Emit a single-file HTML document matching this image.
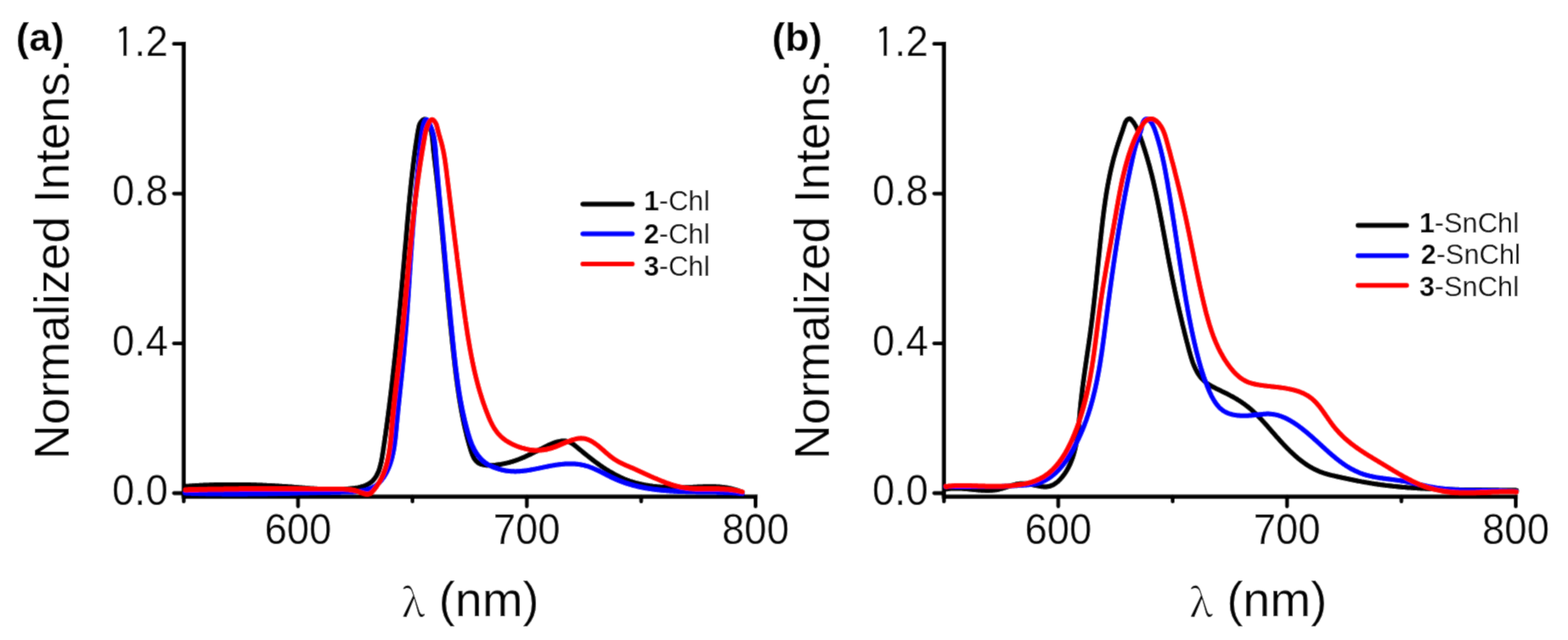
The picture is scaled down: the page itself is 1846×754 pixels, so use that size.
<!DOCTYPE html>
<html><head><meta charset="utf-8"><title>Normalized emission spectra of Chl and SnChl</title>
<style>
html,body{margin:0;padding:0;background:#fff;}
body{width:1846px;height:754px;overflow:hidden;}
svg{display:block;}
text{fill:#000;}
.tk{font-family:"Liberation Sans",Arial,sans-serif;font-size:47.3px;}
.tt{font-family:"Liberation Sans",Arial,sans-serif;font-size:56.6px;}
.xt{font-family:"Liberation Sans",Arial,sans-serif;font-size:57.5px;}
.lam{font-family:"Noto Serif CJK SC","Liberation Serif",serif;font-size:45.5px;}
.pl{font-family:"Liberation Sans",Arial,sans-serif;font-size:46.5px;font-weight:bold;}
.lg{font-family:"Liberation Sans",Arial,sans-serif;font-size:32.5px;}
.b{font-weight:bold;}
.one{font-family:IPAGothic,"Liberation Sans",sans-serif;}
.cv{fill:none;stroke-width:6.0;stroke-linejoin:round;stroke-linecap:round;}
</style></head><body>
<svg width="1846" height="754" viewBox="0 0 1846 754">
<defs><filter id="soft" x="0" y="0" width="1846" height="754" filterUnits="userSpaceOnUse"><feConvolveMatrix order="3" kernelMatrix="1 6 1 6 36 6 1 6 1" divisor="64" edgeMode="duplicate"/></filter></defs>
<g filter="url(#soft)">
<rect width="1846" height="754" fill="#fff"/>

<g transform="translate(0.0,0)">
<path d="M216.3,49.1 V585.2" stroke="#000" stroke-width="5.2" fill="none"/>
<path d="M213.7,585.2 H892.1" stroke="#000" stroke-width="5.2" fill="none"/>
<path d="M204.8,581.0 H216.3" stroke="#000" stroke-width="4.8" stroke-linecap="round"/>
<text class="tk" text-anchor="end" transform="translate(197.8,594.9) scale(1,1.045)">0.0</text>
<path d="M204.8,404.6 H216.3" stroke="#000" stroke-width="4.8" stroke-linecap="round"/>
<text class="tk" text-anchor="end" transform="translate(197.8,418.5) scale(1,1.045)">0.4</text>
<path d="M204.8,228.1 H216.3" stroke="#000" stroke-width="4.8" stroke-linecap="round"/>
<text class="tk" text-anchor="end" transform="translate(197.8,242.0) scale(1,1.045)">0.8</text>
<path d="M204.8,51.7 H216.3" stroke="#000" stroke-width="4.8" stroke-linecap="round"/>
<text class="tk" text-anchor="end" transform="translate(197.8,65.6) scale(1,1.045)"><tspan class="one" dy="2.4">1</tspan><tspan dy="-2.4">.</tspan>2</text>
<path d="M216.3,585.2 V590.8" stroke="#000" stroke-width="4.8" stroke-linecap="round"/>
<path d="M350.9,585.2 V596.5" stroke="#000" stroke-width="4.8" stroke-linecap="round"/>
<text class="tk" text-anchor="middle" transform="translate(350.9,641) scale(1,1.045)">600</text>
<path d="M485.6,585.2 V590.8" stroke="#000" stroke-width="4.8" stroke-linecap="round"/>
<path d="M620.2,585.2 V596.5" stroke="#000" stroke-width="4.8" stroke-linecap="round"/>
<text class="tk" text-anchor="middle" transform="translate(620.2,641) scale(1,1.045)">700</text>
<path d="M754.9,585.2 V590.8" stroke="#000" stroke-width="4.8" stroke-linecap="round"/>
<path d="M889.5,585.2 V596.5" stroke="#000" stroke-width="4.8" stroke-linecap="round"/>
<text class="tk" text-anchor="middle" transform="translate(889.5,641) scale(1,1.045)">800</text>
</g>
<g transform="translate(895.0,0)">
<path d="M216.3,49.1 V585.2" stroke="#000" stroke-width="5.2" fill="none"/>
<path d="M213.7,585.2 H892.1" stroke="#000" stroke-width="5.2" fill="none"/>
<path d="M204.8,581.0 H216.3" stroke="#000" stroke-width="4.8" stroke-linecap="round"/>
<text class="tk" text-anchor="end" transform="translate(197.8,594.9) scale(1,1.045)">0.0</text>
<path d="M204.8,404.6 H216.3" stroke="#000" stroke-width="4.8" stroke-linecap="round"/>
<text class="tk" text-anchor="end" transform="translate(197.8,418.5) scale(1,1.045)">0.4</text>
<path d="M204.8,228.1 H216.3" stroke="#000" stroke-width="4.8" stroke-linecap="round"/>
<text class="tk" text-anchor="end" transform="translate(197.8,242.0) scale(1,1.045)">0.8</text>
<path d="M204.8,51.7 H216.3" stroke="#000" stroke-width="4.8" stroke-linecap="round"/>
<text class="tk" text-anchor="end" transform="translate(197.8,65.6) scale(1,1.045)"><tspan class="one" dy="2.4">1</tspan><tspan dy="-2.4">.</tspan>2</text>
<path d="M216.3,585.2 V590.8" stroke="#000" stroke-width="4.8" stroke-linecap="round"/>
<path d="M350.9,585.2 V596.5" stroke="#000" stroke-width="4.8" stroke-linecap="round"/>
<text class="tk" text-anchor="middle" transform="translate(350.9,641) scale(1,1.045)">600</text>
<path d="M485.6,585.2 V590.8" stroke="#000" stroke-width="4.8" stroke-linecap="round"/>
<path d="M620.2,585.2 V596.5" stroke="#000" stroke-width="4.8" stroke-linecap="round"/>
<text class="tk" text-anchor="middle" transform="translate(620.2,641) scale(1,1.045)">700</text>
<path d="M754.9,585.2 V590.8" stroke="#000" stroke-width="4.8" stroke-linecap="round"/>
<path d="M889.5,585.2 V596.5" stroke="#000" stroke-width="4.8" stroke-linecap="round"/>
<text class="tk" text-anchor="middle" transform="translate(889.5,641) scale(1,1.045)">800</text>
</g>
<path class="cv" stroke="#000" d="M218.6,572.9 L219.8,572.8 L220.9,572.7 L222.1,572.7 L223.3,572.6 L224.5,572.5 L225.7,572.4 L226.9,572.3 L228.1,572.2 L229.3,572.2 L230.4,572.1 L231.6,572.0 L232.8,572.0 L234.0,571.9 L235.2,571.8 L236.4,571.8 L237.6,571.7 L238.8,571.7 L240.0,571.6 L241.2,571.5 L242.4,571.5 L243.6,571.4 L244.8,571.4 L246.0,571.4 L247.2,571.3 L248.4,571.3 L249.6,571.2 L250.8,571.2 L252.0,571.2 L253.2,571.1 L254.4,571.1 L255.6,571.1 L256.8,571.0 L258.0,571.0 L259.2,571.0 L260.4,571.0 L261.6,571.0 L262.8,570.9 L264.0,570.9 L265.2,570.9 L266.4,570.9 L267.6,570.9 L268.8,570.9 L270.0,570.9 L271.2,570.9 L272.4,570.9 L273.6,570.9 L274.8,570.9 L276.0,570.9 L277.2,570.9 L278.4,570.9 L279.6,570.9 L280.8,570.9 L282.0,570.9 L283.3,570.9 L284.5,570.9 L285.7,571.0 L286.9,571.0 L288.1,571.0 L289.3,571.0 L290.5,571.0 L291.7,571.1 L292.9,571.1 L294.1,571.1 L295.3,571.2 L296.5,571.2 L297.7,571.2 L298.9,571.3 L300.1,571.3 L301.3,571.3 L302.5,571.4 L303.7,571.4 L304.9,571.5 L306.1,571.5 L307.3,571.6 L308.5,571.6 L309.7,571.7 L310.9,571.7 L312.1,571.8 L313.3,571.8 L314.5,571.9 L315.7,571.9 L316.9,572.0 L318.1,572.1 L319.3,572.1 L320.5,572.2 L321.7,572.2 L322.9,572.3 L324.1,572.4 L325.3,572.4 L326.5,572.5 L327.7,572.6 L328.9,572.7 L330.1,572.7 L331.3,572.8 L332.5,572.9 L333.6,573.0 L334.8,573.0 L336.0,573.1 L337.2,573.2 L338.4,573.3 L339.6,573.4 L340.8,573.5 L342.0,573.5 L343.1,573.6 L344.3,573.7 L345.5,573.8 L346.7,573.9 L347.9,574.0 L349.1,574.1 L350.2,574.2 L351.4,574.3 L352.6,574.4 L353.8,574.5 L355.0,574.6 L356.1,574.7 L357.3,574.8 L358.5,574.8 L359.7,574.9 L360.8,575.0 L362.0,575.1 L363.2,575.2 L364.4,575.3 L365.6,575.4 L366.8,575.5 L367.9,575.5 L369.1,575.6 L370.3,575.7 L371.5,575.8 L372.7,575.8 L373.9,575.9 L375.1,576.0 L376.3,576.0 L377.5,576.1 L378.6,576.2 L379.8,576.2 L381.0,576.3 L382.2,576.3 L383.4,576.3 L384.6,576.4 L385.9,576.4 L387.1,576.4 L388.3,576.5 L389.5,576.5 L390.7,576.5 L391.9,576.5 L393.1,576.5 L394.4,576.5 L395.6,576.5 L396.8,576.5 L398.1,576.4 L399.3,576.4 L400.5,576.4 L401.8,576.3 L403.0,576.3 L404.3,576.2 L405.5,576.2 L406.8,576.1 L408.0,576.0 L409.3,575.9 L410.6,575.8 L411.8,575.7 L413.1,575.6 L414.4,575.5 L415.6,575.3 L416.9,575.2 L418.1,575.0 L419.3,574.8 L420.5,574.6 L421.7,574.4 L422.9,574.1 L424.1,573.8 L425.3,573.5 L426.4,573.2 L427.5,572.9 L428.6,572.5 L429.7,572.1 L430.7,571.7 L431.7,571.2 L432.7,570.7 L433.7,570.2 L434.6,569.7 L435.5,569.1 L436.4,568.4 L437.2,567.8 L438.0,567.1 L438.8,566.4 L439.5,565.6 L440.2,564.8 L440.8,564.0 L441.5,563.1 L442.1,562.2 L442.7,561.3 L443.2,560.4 L443.7,559.4 L444.2,558.4 L444.7,557.4 L445.1,556.4 L445.6,555.4 L446.0,554.3 L446.4,553.2 L446.7,552.1 L447.1,550.9 L447.4,549.8 L447.7,548.6 L448.0,547.5 L448.3,546.3 L448.6,545.1 L448.9,543.9 L449.1,542.7 L449.3,541.4 L449.6,540.2 L449.8,539.0 L450.0,537.7 L450.2,536.5 L450.4,535.2 L450.6,534.0 L450.8,532.7 L451.0,531.5 L451.2,530.2 L451.4,529.0 L451.5,527.7 L451.7,526.5 L451.9,525.2 L452.1,524.0 L452.3,522.7 L452.5,521.5 L452.6,520.3 L452.8,519.0 L453.0,517.8 L453.2,516.6 L453.3,515.3 L453.5,514.1 L453.7,512.9 L453.9,511.7 L454.0,510.5 L454.2,509.2 L454.4,508.0 L454.5,506.8 L454.7,505.6 L454.9,504.4 L455.1,503.2 L455.2,501.9 L455.4,500.7 L455.5,499.5 L455.7,498.3 L455.9,497.1 L456.0,495.9 L456.2,494.7 L456.3,493.5 L456.5,492.3 L456.7,491.1 L456.8,489.9 L457.0,488.7 L457.1,487.5 L457.3,486.3 L457.4,485.1 L457.6,483.9 L457.7,482.7 L457.9,481.5 L458.1,480.4 L458.2,479.2 L458.4,478.0 L458.5,476.8 L458.6,475.6 L458.8,474.4 L458.9,473.2 L459.1,472.1 L459.2,470.9 L459.4,469.7 L459.5,468.5 L459.7,467.3 L459.8,466.1 L460.0,465.0 L460.1,463.8 L460.2,462.6 L460.4,461.4 L460.5,460.3 L460.7,459.1 L460.8,457.9 L460.9,456.7 L461.1,455.5 L461.2,454.4 L461.3,453.2 L461.5,452.0 L461.6,450.8 L461.7,449.7 L461.9,448.5 L462.0,447.3 L462.2,446.2 L462.3,445.0 L462.4,443.8 L462.5,442.6 L462.7,441.5 L462.8,440.3 L462.9,439.1 L463.1,437.9 L463.2,436.8 L463.3,435.6 L463.5,434.4 L463.6,433.2 L463.7,432.1 L463.8,430.9 L464.0,429.7 L464.1,428.5 L464.2,427.4 L464.3,426.2 L464.5,425.0 L464.6,423.8 L464.7,422.7 L464.9,421.5 L465.0,420.3 L465.1,419.1 L465.2,418.0 L465.3,416.8 L465.5,415.6 L465.6,414.4 L465.7,413.2 L465.8,412.1 L466.0,410.9 L466.1,409.7 L466.2,408.5 L466.3,407.3 L466.4,406.2 L466.6,405.0 L466.7,403.8 L466.8,402.6 L466.9,401.4 L467.0,400.2 L467.2,399.0 L467.3,397.9 L467.4,396.7 L467.5,395.5 L467.6,394.3 L467.8,393.1 L467.9,391.9 L468.0,390.7 L468.1,389.5 L468.2,388.3 L468.4,387.1 L468.5,385.9 L468.6,384.7 L468.7,383.6 L468.8,382.4 L468.9,381.2 L469.1,380.0 L469.2,378.8 L469.3,377.6 L469.4,376.4 L469.5,375.2 L469.6,374.0 L469.7,372.8 L469.9,371.6 L470.0,370.4 L470.1,369.2 L470.2,368.0 L470.3,366.8 L470.4,365.6 L470.5,364.4 L470.7,363.2 L470.8,362.0 L470.9,360.8 L471.0,359.6 L471.1,358.4 L471.2,357.2 L471.3,356.0 L471.4,354.8 L471.6,353.6 L471.7,352.4 L471.8,351.2 L471.9,350.0 L472.0,348.8 L472.1,347.6 L472.2,346.4 L472.3,345.2 L472.4,344.0 L472.6,342.7 L472.7,341.5 L472.8,340.3 L472.9,339.1 L473.0,337.9 L473.1,336.7 L473.2,335.5 L473.3,334.3 L473.4,333.1 L473.5,331.9 L473.6,330.7 L473.8,329.5 L473.9,328.3 L474.0,327.1 L474.1,325.9 L474.2,324.7 L474.3,323.5 L474.4,322.3 L474.5,321.1 L474.6,319.9 L474.7,318.7 L474.8,317.5 L474.9,316.3 L475.0,315.1 L475.2,313.8 L475.3,312.6 L475.4,311.4 L475.5,310.2 L475.6,309.0 L475.7,307.8 L475.8,306.6 L475.9,305.4 L476.0,304.2 L476.1,303.0 L476.2,301.8 L476.3,300.6 L476.4,299.4 L476.5,298.2 L476.6,297.0 L476.7,295.8 L476.8,294.6 L476.9,293.4 L477.0,292.2 L477.1,291.0 L477.3,289.8 L477.4,288.6 L477.5,287.4 L477.6,286.2 L477.7,285.0 L477.8,283.8 L477.9,282.6 L478.0,281.4 L478.1,280.2 L478.2,279.1 L478.3,277.9 L478.4,276.7 L478.5,275.5 L478.6,274.3 L478.7,273.1 L478.8,271.9 L478.9,270.7 L479.0,269.5 L479.1,268.3 L479.2,267.1 L479.3,265.9 L479.4,264.7 L479.5,263.6 L479.6,262.4 L479.7,261.2 L479.8,260.0 L479.9,258.8 L480.0,257.6 L480.1,256.4 L480.3,255.2 L480.4,254.0 L480.5,252.9 L480.6,251.7 L480.7,250.5 L480.8,249.3 L480.9,248.1 L481.0,246.9 L481.1,245.7 L481.2,244.5 L481.3,243.4 L481.4,242.2 L481.5,241.0 L481.6,239.8 L481.8,238.6 L481.9,237.4 L482.0,236.2 L482.1,235.0 L482.2,233.9 L482.3,232.7 L482.4,231.5 L482.6,230.3 L482.7,229.1 L482.8,227.9 L482.9,226.7 L483.0,225.6 L483.1,224.4 L483.3,223.2 L483.4,222.0 L483.5,220.8 L483.6,219.6 L483.7,218.4 L483.9,217.2 L484.0,216.1 L484.1,214.9 L484.2,213.7 L484.4,212.5 L484.5,211.3 L484.6,210.1 L484.8,208.9 L484.9,207.7 L485.0,206.5 L485.1,205.3 L485.3,204.2 L485.4,203.0 L485.6,201.8 L485.7,200.6 L485.8,199.4 L486.0,198.2 L486.1,197.0 L486.3,195.8 L486.4,194.6 L486.5,193.4 L486.7,192.2 L486.8,191.0 L487.0,189.8 L487.1,188.7 L487.3,187.5 L487.4,186.3 L487.6,185.1 L487.7,183.9 L487.9,182.7 L488.1,181.5 L488.2,180.3 L488.4,179.1 L488.5,177.9 L488.7,176.7 L488.9,175.5 L489.0,174.3 L489.2,173.1 L489.4,171.9 L489.6,170.7 L489.7,169.5 L489.9,168.3 L490.1,167.1 L490.3,165.9 L490.5,164.7 L490.7,163.6 L490.8,162.4 L491.0,161.2 L491.2,160.0 L491.4,158.8 L491.6,157.6 L491.8,156.5 L492.0,155.3 L492.2,154.1 L492.4,153.0 L492.7,151.8 L492.9,150.6 L493.1,149.5 L493.4,148.3 L493.7,147.2 L494.2,146.1 L494.7,145.0 L495.4,143.9 L496.3,142.8 L497.3,141.8 L498.4,141.0 L499.5,140.5 L500.5,140.4 L501.4,140.8 L502.2,141.5 L502.9,142.5 L503.5,143.6 L504.1,144.6 L504.7,145.7 L505.2,146.8 L505.6,147.9 L506.1,149.0 L506.5,150.2 L506.8,151.3 L507.2,152.5 L507.5,153.6 L507.7,154.8 L508.0,156.0 L508.2,157.2 L508.4,158.4 L508.6,159.6 L508.8,160.8 L508.9,162.0 L509.1,163.2 L509.2,164.4 L509.3,165.6 L509.5,166.8 L509.6,168.0 L509.7,169.3 L509.8,170.5 L509.9,171.7 L510.0,172.9 L510.1,174.1 L510.2,175.3 L510.3,176.5 L510.5,177.7 L510.6,178.9 L510.7,180.1 L510.9,181.3 L511.0,182.5 L511.1,183.7 L511.3,184.9 L511.4,186.0 L511.5,187.2 L511.7,188.4 L511.8,189.6 L512.0,190.8 L512.1,192.0 L512.3,193.1 L512.4,194.3 L512.5,195.5 L512.7,196.7 L512.8,197.9 L513.0,199.1 L513.1,200.2 L513.2,201.4 L513.4,202.6 L513.5,203.8 L513.6,205.0 L513.8,206.2 L513.9,207.4 L514.0,208.5 L514.2,209.7 L514.3,210.9 L514.4,212.1 L514.6,213.3 L514.7,214.5 L514.8,215.7 L514.9,216.8 L515.1,218.0 L515.2,219.2 L515.3,220.4 L515.5,221.6 L515.6,222.8 L515.7,224.0 L515.8,225.2 L516.0,226.4 L516.1,227.5 L516.2,228.7 L516.3,229.9 L516.5,231.1 L516.6,232.3 L516.7,233.5 L516.8,234.7 L516.9,235.9 L517.1,237.1 L517.2,238.3 L517.3,239.4 L517.4,240.6 L517.5,241.8 L517.6,243.0 L517.8,244.2 L517.9,245.4 L518.0,246.6 L518.1,247.8 L518.2,249.0 L518.3,250.2 L518.5,251.4 L518.6,252.6 L518.7,253.7 L518.8,254.9 L518.9,256.1 L519.0,257.3 L519.1,258.5 L519.3,259.7 L519.4,260.9 L519.5,262.1 L519.6,263.3 L519.7,264.5 L519.8,265.7 L519.9,266.9 L520.0,268.1 L520.1,269.3 L520.3,270.4 L520.4,271.6 L520.5,272.8 L520.6,274.0 L520.7,275.2 L520.8,276.4 L520.9,277.6 L521.0,278.8 L521.1,280.0 L521.2,281.2 L521.3,282.4 L521.5,283.6 L521.6,284.8 L521.7,286.0 L521.8,287.2 L521.9,288.4 L522.0,289.6 L522.1,290.8 L522.2,292.0 L522.3,293.2 L522.4,294.3 L522.5,295.5 L522.6,296.7 L522.7,297.9 L522.8,299.1 L522.9,300.3 L523.0,301.5 L523.2,302.7 L523.3,303.9 L523.4,305.1 L523.5,306.3 L523.6,307.5 L523.7,308.7 L523.8,309.9 L523.9,311.1 L524.0,312.3 L524.1,313.5 L524.2,314.7 L524.3,315.9 L524.4,317.1 L524.5,318.3 L524.6,319.5 L524.7,320.7 L524.8,321.9 L524.9,323.1 L525.0,324.3 L525.2,325.5 L525.3,326.7 L525.4,327.8 L525.5,329.0 L525.6,330.2 L525.7,331.4 L525.8,332.6 L525.9,333.8 L526.0,335.0 L526.1,336.2 L526.2,337.4 L526.3,338.6 L526.4,339.8 L526.5,341.0 L526.6,342.2 L526.7,343.4 L526.9,344.6 L527.0,345.8 L527.1,347.0 L527.2,348.2 L527.3,349.4 L527.4,350.6 L527.5,351.8 L527.6,353.0 L527.7,354.2 L527.8,355.4 L527.9,356.6 L528.1,357.8 L528.2,359.0 L528.3,360.2 L528.4,361.3 L528.5,362.5 L528.6,363.7 L528.7,364.9 L528.8,366.1 L528.9,367.3 L529.1,368.5 L529.2,369.7 L529.3,370.9 L529.4,372.1 L529.5,373.3 L529.6,374.5 L529.7,375.7 L529.9,376.9 L530.0,378.1 L530.1,379.3 L530.2,380.5 L530.3,381.7 L530.4,382.9 L530.6,384.1 L530.7,385.3 L530.8,386.4 L530.9,387.6 L531.0,388.8 L531.2,390.0 L531.3,391.2 L531.4,392.4 L531.5,393.6 L531.6,394.8 L531.8,396.0 L531.9,397.2 L532.0,398.4 L532.1,399.6 L532.2,400.8 L532.4,402.0 L532.5,403.2 L532.6,404.4 L532.8,405.5 L532.9,406.7 L533.0,407.9 L533.1,409.1 L533.3,410.3 L533.4,411.5 L533.5,412.7 L533.7,413.9 L533.8,415.1 L533.9,416.3 L534.0,417.5 L534.2,418.7 L534.3,419.8 L534.4,421.0 L534.6,422.2 L534.7,423.4 L534.9,424.6 L535.0,425.8 L535.1,427.0 L535.3,428.2 L535.4,429.4 L535.5,430.6 L535.7,431.7 L535.8,432.9 L536.0,434.1 L536.1,435.3 L536.3,436.5 L536.4,437.7 L536.5,438.9 L536.7,440.1 L536.8,441.3 L537.0,442.4 L537.1,443.6 L537.3,444.8 L537.4,446.0 L537.6,447.2 L537.7,448.4 L537.9,449.6 L538.1,450.8 L538.2,451.9 L538.4,453.1 L538.5,454.3 L538.7,455.5 L538.9,456.7 L539.0,457.9 L539.2,459.1 L539.4,460.2 L539.6,461.4 L539.7,462.6 L539.9,463.8 L540.1,465.0 L540.3,466.2 L540.4,467.3 L540.6,468.5 L540.8,469.7 L541.0,470.9 L541.2,472.1 L541.4,473.3 L541.6,474.4 L541.8,475.6 L542.0,476.8 L542.2,478.0 L542.4,479.2 L542.6,480.3 L542.8,481.5 L543.0,482.7 L543.2,483.9 L543.4,485.1 L543.7,486.2 L543.9,487.4 L544.1,488.6 L544.3,489.8 L544.6,491.0 L544.8,492.1 L545.0,493.3 L545.3,494.5 L545.5,495.7 L545.8,496.9 L546.0,498.0 L546.3,499.2 L546.5,500.4 L546.8,501.6 L547.0,502.7 L547.3,503.9 L547.6,505.1 L547.8,506.3 L548.1,507.4 L548.4,508.6 L548.7,509.8 L549.0,511.0 L549.2,512.1 L549.5,513.3 L549.8,514.5 L550.1,515.7 L550.4,516.8 L550.7,518.0 L551.1,519.2 L551.4,520.4 L551.7,521.5 L552.0,522.7 L552.3,523.9 L552.7,525.0 L553.0,526.2 L553.4,527.4 L553.7,528.6 L554.0,529.7 L554.4,530.9 L554.8,532.0 L555.2,533.2 L555.6,534.3 L556.0,535.4 L556.4,536.5 L556.9,537.5 L557.4,538.6 L557.9,539.6 L558.5,540.5 L559.1,541.4 L559.8,542.3 L560.5,543.1 L561.2,543.8 L562.0,544.5 L562.8,545.2 L563.8,545.7 L564.7,546.3 L565.7,546.7 L566.8,547.1 L567.9,547.4 L569.1,547.7 L570.3,547.9 L571.5,548.0 L572.8,548.2 L574.1,548.2 L575.4,548.3 L576.8,548.3 L578.1,548.2 L579.4,548.2 L580.8,548.1 L582.1,547.9 L583.5,547.8 L584.8,547.6 L586.2,547.5 L587.5,547.3 L588.7,547.1 L590.0,546.9 L591.3,546.6 L592.5,546.4 L593.7,546.2 L594.9,545.9 L596.1,545.6 L597.3,545.4 L598.4,545.1 L599.6,544.8 L600.7,544.5 L601.9,544.1 L603.0,543.8 L604.1,543.5 L605.2,543.1 L606.3,542.8 L607.4,542.4 L608.4,542.0 L609.5,541.6 L610.6,541.2 L611.6,540.8 L612.7,540.4 L613.7,540.0 L614.7,539.6 L615.8,539.1 L616.8,538.7 L617.8,538.2 L618.9,537.8 L619.9,537.3 L620.9,536.8 L622.0,536.3 L623.0,535.9 L624.0,535.4 L625.1,534.9 L626.1,534.3 L627.2,533.8 L628.2,533.3 L629.3,532.8 L630.3,532.2 L631.4,531.7 L632.5,531.2 L633.6,530.6 L634.7,530.1 L635.8,529.5 L636.9,528.9 L638.0,528.4 L639.1,527.8 L640.3,527.2 L641.4,526.6 L642.6,526.0 L643.7,525.5 L644.9,524.9 L646.1,524.3 L647.3,523.8 L648.5,523.3 L649.7,522.8 L650.9,522.3 L652.1,521.8 L653.2,521.4 L654.4,521.0 L655.6,520.7 L656.8,520.4 L658.0,520.1 L659.2,519.9 L660.3,519.7 L661.5,519.5 L662.6,519.5 L663.8,519.5 L664.9,519.5 L666.0,519.6 L667.1,519.8 L668.2,520.1 L669.3,520.4 L670.3,520.8 L671.3,521.3 L672.3,521.8 L673.3,522.4 L674.3,523.0 L675.3,523.7 L676.3,524.4 L677.2,525.2 L678.2,526.0 L679.2,526.8 L680.1,527.6 L681.1,528.4 L682.0,529.2 L683.0,529.9 L683.9,530.7 L684.9,531.5 L685.8,532.3 L686.8,533.1 L687.7,533.9 L688.7,534.7 L689.6,535.4 L690.6,536.2 L691.6,537.0 L692.5,537.7 L693.5,538.5 L694.4,539.2 L695.4,540.0 L696.4,540.7 L697.3,541.5 L698.3,542.2 L699.3,542.9 L700.2,543.7 L701.2,544.4 L702.2,545.1 L703.1,545.8 L704.1,546.5 L705.1,547.2 L706.1,547.9 L707.1,548.6 L708.0,549.3 L709.0,549.9 L710.0,550.6 L711.0,551.3 L712.0,551.9 L713.0,552.6 L714.0,553.2 L715.0,553.8 L716.0,554.4 L717.0,555.1 L718.0,555.7 L719.1,556.3 L720.1,556.8 L721.1,557.4 L722.1,558.0 L723.2,558.6 L724.2,559.1 L725.2,559.7 L726.3,560.2 L727.3,560.7 L728.4,561.3 L729.4,561.8 L730.5,562.3 L731.6,562.7 L732.6,563.2 L733.7,563.7 L734.8,564.2 L735.8,564.6 L736.9,565.0 L738.0,565.5 L739.1,565.9 L740.2,566.3 L741.3,566.7 L742.4,567.1 L743.6,567.4 L744.7,567.8 L745.8,568.1 L746.9,568.5 L748.1,568.8 L749.2,569.1 L750.4,569.4 L751.5,569.7 L752.7,570.0 L753.8,570.2 L755.0,570.5 L756.2,570.7 L757.3,571.0 L758.5,571.2 L759.7,571.4 L760.9,571.6 L762.1,571.8 L763.3,572.0 L764.4,572.2 L765.6,572.4 L766.8,572.5 L768.0,572.7 L769.2,572.9 L770.5,573.0 L771.7,573.1 L772.9,573.2 L774.1,573.4 L775.3,573.5 L776.5,573.6 L777.7,573.7 L778.9,573.7 L780.2,573.8 L781.4,573.9 L782.6,574.0 L783.8,574.0 L785.1,574.1 L786.3,574.1 L787.5,574.2 L788.7,574.2 L790.0,574.2 L791.2,574.3 L792.4,574.3 L793.6,574.3 L794.8,574.3 L796.1,574.3 L797.3,574.3 L798.5,574.3 L799.7,574.3 L800.9,574.3 L802.2,574.3 L803.4,574.3 L804.6,574.2 L805.8,574.2 L807.0,574.2 L808.2,574.1 L809.4,574.1 L810.6,574.1 L811.8,574.0 L813.0,574.0 L814.2,573.9 L815.4,573.9 L816.6,573.8 L817.8,573.8 L819.0,573.7 L820.2,573.7 L821.4,573.6 L822.5,573.6 L823.7,573.5 L824.9,573.5 L826.1,573.4 L827.2,573.4 L828.4,573.3 L829.6,573.3 L830.7,573.3 L831.9,573.3 L833.1,573.2 L834.2,573.2 L835.4,573.2 L836.5,573.2 L837.7,573.2 L838.9,573.2 L840.0,573.2 L841.2,573.3 L842.3,573.3 L843.5,573.4 L844.7,573.4 L845.8,573.5 L847.0,573.6 L848.1,573.7 L849.3,573.8 L850.5,573.9 L851.6,574.0 L852.8,574.2 L854.0,574.4 L855.1,574.5 L856.3,574.7 L857.5,575.0 L858.7,575.2 L859.8,575.4 L861.0,575.7 L862.2,576.0 L863.4,576.3 L864.6,576.6 L865.7,576.9 L866.9,577.3 L868.1,577.7 L869.3,578.1 L870.5,578.5 L871.7,579.0 L872.9,579.4 L874.1,579.9"/>
<path class="cv" stroke="#00f" d="M218.2,580.6 L219.5,580.7 L220.7,580.7 L222.0,580.7 L223.2,580.8 L224.4,580.8 L225.7,580.9 L226.9,580.9 L228.1,581.0 L229.4,581.0 L230.6,581.0 L231.8,581.1 L233.0,581.1 L234.3,581.2 L235.5,581.2 L236.7,581.2 L237.9,581.3 L239.2,581.3 L240.4,581.3 L241.6,581.3 L242.8,581.4 L244.0,581.4 L245.2,581.4 L246.4,581.4 L247.7,581.5 L248.9,581.5 L250.1,581.5 L251.3,581.5 L252.5,581.5 L253.7,581.6 L254.9,581.6 L256.1,581.6 L257.3,581.6 L258.5,581.6 L259.7,581.6 L260.9,581.6 L262.1,581.7 L263.3,581.7 L264.5,581.7 L265.7,581.7 L266.9,581.7 L268.1,581.7 L269.3,581.7 L270.5,581.7 L271.7,581.7 L272.9,581.7 L274.1,581.7 L275.3,581.7 L276.5,581.7 L277.6,581.7 L278.8,581.7 L280.0,581.7 L281.2,581.7 L282.4,581.7 L283.6,581.7 L284.8,581.7 L286.0,581.7 L287.2,581.7 L288.3,581.7 L289.5,581.7 L290.7,581.7 L291.9,581.6 L293.1,581.6 L294.3,581.6 L295.4,581.6 L296.6,581.6 L297.8,581.6 L299.0,581.6 L300.2,581.6 L301.4,581.5 L302.5,581.5 L303.7,581.5 L304.9,581.5 L306.1,581.5 L307.3,581.5 L308.5,581.5 L309.6,581.4 L310.8,581.4 L312.0,581.4 L313.2,581.4 L314.4,581.4 L315.5,581.3 L316.7,581.3 L317.9,581.3 L319.1,581.3 L320.3,581.3 L321.5,581.2 L322.6,581.2 L323.8,581.2 L325.0,581.2 L326.2,581.2 L327.4,581.1 L328.6,581.1 L329.7,581.1 L330.9,581.1 L332.1,581.0 L333.3,581.0 L334.5,581.0 L335.7,581.0 L336.9,580.9 L338.0,580.9 L339.2,580.9 L340.4,580.9 L341.6,580.8 L342.8,580.8 L344.0,580.8 L345.2,580.8 L346.4,580.7 L347.5,580.7 L348.7,580.7 L349.9,580.7 L351.1,580.6 L352.3,580.6 L353.5,580.6 L354.7,580.6 L355.9,580.5 L357.1,580.5 L358.3,580.5 L359.5,580.4 L360.7,580.4 L361.9,580.4 L363.1,580.4 L364.3,580.3 L365.5,580.3 L366.7,580.3 L367.9,580.3 L369.1,580.2 L370.3,580.2 L371.5,580.2 L372.7,580.2 L373.9,580.1 L375.1,580.1 L376.3,580.1 L377.5,580.1 L378.7,580.0 L380.0,580.0 L381.2,580.0 L382.4,580.0 L383.6,580.0 L384.8,579.9 L386.0,579.9 L387.3,579.9 L388.5,579.9 L389.7,579.8 L390.9,579.8 L392.2,579.8 L393.4,579.8 L394.6,579.8 L395.8,579.7 L397.1,579.7 L398.3,579.7 L399.5,579.7 L400.8,579.7 L402.0,579.6 L403.2,579.6 L404.5,579.6 L405.7,579.6 L407.0,579.6 L408.2,579.6 L409.4,579.5 L410.7,579.5 L411.9,579.5 L413.2,579.5 L414.4,579.4 L415.6,579.4 L416.8,579.3 L418.1,579.2 L419.3,579.1 L420.5,579.1 L421.7,578.9 L422.9,578.8 L424.0,578.7 L425.2,578.5 L426.4,578.3 L427.5,578.1 L428.7,577.9 L429.8,577.6 L430.9,577.4 L432.0,577.1 L433.1,576.7 L434.2,576.4 L435.2,576.0 L436.3,575.6 L437.3,575.2 L438.3,574.7 L439.3,574.2 L440.2,573.6 L441.2,573.0 L442.1,572.4 L443.0,571.8 L443.9,571.1 L444.7,570.3 L445.5,569.6 L446.4,568.8 L447.1,568.0 L447.9,567.1 L448.7,566.2 L449.4,565.4 L450.1,564.4 L450.8,563.5 L451.5,562.6 L452.1,561.6 L452.7,560.6 L453.3,559.6 L453.9,558.6 L454.5,557.6 L455.0,556.6 L455.6,555.6 L456.1,554.5 L456.6,553.5 L457.0,552.4 L457.5,551.4 L458.0,550.3 L458.4,549.2 L458.8,548.1 L459.2,547.0 L459.6,545.9 L459.9,544.8 L460.3,543.7 L460.6,542.6 L461.0,541.4 L461.3,540.3 L461.6,539.1 L461.9,538.0 L462.1,536.8 L462.4,535.6 L462.7,534.5 L462.9,533.3 L463.1,532.1 L463.4,530.9 L463.6,529.7 L463.8,528.5 L464.0,527.3 L464.2,526.1 L464.4,524.9 L464.5,523.7 L464.7,522.5 L464.9,521.3 L465.0,520.1 L465.2,518.8 L465.3,517.6 L465.5,516.4 L465.6,515.2 L465.7,513.9 L465.9,512.7 L466.0,511.5 L466.1,510.2 L466.2,509.0 L466.3,507.8 L466.5,506.5 L466.6,505.3 L466.7,504.1 L466.8,502.8 L466.9,501.6 L467.0,500.4 L467.1,499.1 L467.2,497.9 L467.4,496.7 L467.5,495.5 L467.6,494.3 L467.7,493.0 L467.8,491.8 L467.9,490.6 L468.1,489.4 L468.2,488.2 L468.3,487.0 L468.4,485.7 L468.5,484.5 L468.7,483.3 L468.8,482.1 L468.9,480.9 L469.0,479.7 L469.1,478.5 L469.3,477.3 L469.4,476.1 L469.5,474.9 L469.6,473.7 L469.8,472.5 L469.9,471.3 L470.0,470.1 L470.1,468.9 L470.3,467.7 L470.4,466.5 L470.5,465.3 L470.6,464.1 L470.8,462.9 L470.9,461.7 L471.0,460.5 L471.1,459.3 L471.3,458.1 L471.4,457.0 L471.5,455.8 L471.6,454.6 L471.8,453.4 L471.9,452.2 L472.0,451.0 L472.1,449.8 L472.3,448.6 L472.4,447.5 L472.5,446.3 L472.6,445.1 L472.8,443.9 L472.9,442.7 L473.0,441.5 L473.1,440.3 L473.2,439.2 L473.4,438.0 L473.5,436.8 L473.6,435.6 L473.7,434.4 L473.9,433.3 L474.0,432.1 L474.1,430.9 L474.2,429.7 L474.3,428.5 L474.4,427.3 L474.6,426.2 L474.7,425.0 L474.8,423.8 L474.9,422.6 L475.0,421.4 L475.1,420.2 L475.3,419.1 L475.4,417.9 L475.5,416.7 L475.6,415.5 L475.7,414.3 L475.8,413.1 L475.9,412.0 L476.0,410.8 L476.1,409.6 L476.2,408.4 L476.3,407.2 L476.4,406.0 L476.5,404.8 L476.6,403.6 L476.7,402.5 L476.9,401.3 L476.9,400.1 L477.0,398.9 L477.1,397.7 L477.2,396.5 L477.3,395.3 L477.4,394.1 L477.5,392.9 L477.6,391.7 L477.7,390.6 L477.8,389.4 L477.9,388.2 L478.0,387.0 L478.1,385.8 L478.2,384.6 L478.3,383.4 L478.4,382.2 L478.4,381.0 L478.5,379.8 L478.6,378.6 L478.7,377.4 L478.8,376.2 L478.9,375.0 L479.0,373.8 L479.1,372.6 L479.1,371.4 L479.2,370.2 L479.3,369.0 L479.4,367.8 L479.5,366.7 L479.6,365.5 L479.6,364.3 L479.7,363.1 L479.8,361.9 L479.9,360.7 L480.0,359.5 L480.0,358.3 L480.1,357.1 L480.2,355.9 L480.3,354.7 L480.4,353.5 L480.4,352.3 L480.5,351.1 L480.6,349.9 L480.7,348.7 L480.8,347.5 L480.8,346.3 L480.9,345.1 L481.0,343.9 L481.1,342.7 L481.1,341.5 L481.2,340.3 L481.3,339.1 L481.4,337.9 L481.4,336.7 L481.5,335.5 L481.6,334.3 L481.7,333.1 L481.8,331.9 L481.8,330.7 L481.9,329.5 L482.0,328.3 L482.1,327.1 L482.1,325.9 L482.2,324.6 L482.3,323.4 L482.4,322.2 L482.4,321.0 L482.5,319.8 L482.6,318.6 L482.7,317.4 L482.8,316.2 L482.8,315.0 L482.9,313.8 L483.0,312.6 L483.1,311.4 L483.1,310.2 L483.2,309.0 L483.3,307.8 L483.4,306.6 L483.5,305.4 L483.5,304.2 L483.6,303.0 L483.7,301.8 L483.8,300.6 L483.9,299.4 L483.9,298.2 L484.0,297.0 L484.1,295.8 L484.2,294.6 L484.3,293.4 L484.4,292.2 L484.4,291.0 L484.5,289.8 L484.6,288.6 L484.7,287.4 L484.8,286.2 L484.9,285.0 L484.9,283.8 L485.0,282.6 L485.1,281.4 L485.2,280.2 L485.3,279.1 L485.4,277.9 L485.5,276.7 L485.6,275.5 L485.7,274.3 L485.7,273.1 L485.8,271.9 L485.9,270.7 L486.0,269.5 L486.1,268.3 L486.2,267.1 L486.3,265.9 L486.4,264.7 L486.5,263.5 L486.6,262.3 L486.7,261.1 L486.8,259.9 L486.9,258.7 L487.0,257.5 L487.1,256.3 L487.2,255.1 L487.3,253.9 L487.4,252.8 L487.5,251.6 L487.6,250.4 L487.7,249.2 L487.8,248.0 L487.9,246.8 L488.0,245.6 L488.1,244.4 L488.2,243.2 L488.3,242.0 L488.4,240.8 L488.5,239.6 L488.6,238.4 L488.7,237.3 L488.8,236.1 L488.9,234.9 L489.0,233.7 L489.1,232.5 L489.3,231.3 L489.4,230.1 L489.5,228.9 L489.6,227.7 L489.7,226.5 L489.8,225.3 L489.9,224.1 L490.0,223.0 L490.1,221.8 L490.2,220.6 L490.3,219.4 L490.5,218.2 L490.6,217.0 L490.7,215.8 L490.8,214.6 L490.9,213.4 L491.0,212.2 L491.1,211.0 L491.2,209.8 L491.4,208.7 L491.5,207.5 L491.6,206.3 L491.7,205.1 L491.8,203.9 L491.9,202.7 L492.0,201.5 L492.2,200.3 L492.3,199.1 L492.4,197.9 L492.5,196.7 L492.6,195.6 L492.7,194.4 L492.9,193.2 L493.0,192.0 L493.1,190.8 L493.2,189.6 L493.3,188.4 L493.4,187.2 L493.6,186.0 L493.7,184.8 L493.8,183.6 L493.9,182.4 L494.0,181.3 L494.2,180.1 L494.3,178.9 L494.4,177.7 L494.5,176.5 L494.6,175.3 L494.8,174.1 L494.9,172.9 L495.0,171.7 L495.2,170.5 L495.3,169.3 L495.4,168.2 L495.6,167.0 L495.7,165.8 L495.9,164.6 L496.0,163.4 L496.2,162.2 L496.3,161.0 L496.5,159.8 L496.7,158.6 L496.8,157.5 L497.0,156.3 L497.2,155.1 L497.4,153.9 L497.6,152.7 L497.8,151.5 L498.0,150.4 L498.2,149.2 L498.5,148.0 L498.8,146.7 L499.2,145.5 L499.6,144.1 L500.2,142.9 L500.8,141.7 L501.5,141.0 L502.1,140.7 L502.8,141.1 L503.5,141.9 L504.1,142.9 L504.7,144.0 L505.3,145.1 L505.9,146.2 L506.4,147.4 L506.9,148.5 L507.3,149.6 L507.8,150.8 L508.2,151.9 L508.6,153.0 L509.0,154.2 L509.3,155.3 L509.6,156.5 L509.9,157.7 L510.2,158.8 L510.5,160.0 L510.7,161.2 L510.9,162.4 L511.2,163.6 L511.4,164.7 L511.5,165.9 L511.7,167.1 L511.9,168.3 L512.0,169.5 L512.2,170.7 L512.3,171.9 L512.4,173.1 L512.5,174.3 L512.7,175.5 L512.8,176.7 L512.9,177.9 L513.0,179.1 L513.0,180.3 L513.1,181.5 L513.2,182.7 L513.3,183.9 L513.4,185.1 L513.5,186.3 L513.6,187.5 L513.7,188.7 L513.8,189.9 L513.9,191.1 L514.0,192.3 L514.1,193.5 L514.2,194.7 L514.3,195.9 L514.4,197.1 L514.5,198.3 L514.6,199.5 L514.7,200.7 L514.8,201.9 L514.9,203.1 L515.0,204.3 L515.1,205.5 L515.2,206.7 L515.3,207.9 L515.4,209.1 L515.5,210.3 L515.6,211.5 L515.7,212.7 L515.8,213.9 L515.9,215.1 L516.0,216.3 L516.1,217.5 L516.2,218.7 L516.3,219.9 L516.4,221.1 L516.5,222.2 L516.6,223.4 L516.7,224.6 L516.8,225.8 L516.9,227.0 L517.0,228.2 L517.1,229.4 L517.2,230.6 L517.3,231.8 L517.5,233.0 L517.6,234.2 L517.7,235.4 L517.8,236.5 L517.9,237.7 L518.0,238.9 L518.1,240.1 L518.2,241.3 L518.3,242.5 L518.4,243.7 L518.5,244.9 L518.6,246.1 L518.8,247.3 L518.9,248.5 L519.0,249.6 L519.1,250.8 L519.2,252.0 L519.3,253.2 L519.4,254.4 L519.5,255.6 L519.6,256.8 L519.7,258.0 L519.9,259.2 L520.0,260.4 L520.1,261.5 L520.2,262.7 L520.3,263.9 L520.4,265.1 L520.5,266.3 L520.6,267.5 L520.7,268.7 L520.8,269.9 L521.0,271.1 L521.1,272.3 L521.2,273.5 L521.3,274.6 L521.4,275.8 L521.5,277.0 L521.6,278.2 L521.7,279.4 L521.8,280.6 L521.9,281.8 L522.0,283.0 L522.2,284.2 L522.3,285.4 L522.4,286.6 L522.5,287.8 L522.6,289.0 L522.7,290.2 L522.8,291.3 L522.9,292.5 L523.0,293.7 L523.1,294.9 L523.2,296.1 L523.4,297.3 L523.5,298.5 L523.6,299.7 L523.7,300.9 L523.8,302.1 L523.9,303.3 L524.0,304.5 L524.1,305.7 L524.2,306.9 L524.3,308.1 L524.4,309.3 L524.5,310.5 L524.6,311.7 L524.8,312.9 L524.9,314.1 L525.0,315.3 L525.1,316.5 L525.2,317.6 L525.3,318.8 L525.4,320.0 L525.5,321.2 L525.6,322.4 L525.7,323.6 L525.8,324.8 L526.0,326.0 L526.1,327.2 L526.2,328.4 L526.3,329.6 L526.4,330.8 L526.5,332.0 L526.6,333.2 L526.7,334.4 L526.8,335.6 L526.9,336.8 L527.0,338.0 L527.2,339.2 L527.3,340.4 L527.4,341.6 L527.5,342.8 L527.6,344.0 L527.7,345.2 L527.8,346.4 L527.9,347.6 L528.0,348.8 L528.1,350.0 L528.3,351.2 L528.4,352.4 L528.5,353.6 L528.6,354.7 L528.7,355.9 L528.8,357.1 L528.9,358.3 L529.0,359.5 L529.2,360.7 L529.3,361.9 L529.4,363.1 L529.5,364.3 L529.6,365.5 L529.7,366.7 L529.8,367.9 L529.9,369.1 L530.1,370.3 L530.2,371.5 L530.3,372.7 L530.4,373.9 L530.5,375.1 L530.6,376.3 L530.7,377.5 L530.9,378.7 L531.0,379.9 L531.1,381.1 L531.2,382.3 L531.3,383.4 L531.4,384.6 L531.6,385.8 L531.7,387.0 L531.8,388.2 L531.9,389.4 L532.0,390.6 L532.2,391.8 L532.3,393.0 L532.4,394.2 L532.5,395.4 L532.6,396.6 L532.8,397.8 L532.9,399.0 L533.0,400.1 L533.1,401.3 L533.2,402.5 L533.4,403.7 L533.5,404.9 L533.6,406.1 L533.7,407.3 L533.9,408.5 L534.0,409.7 L534.1,410.9 L534.2,412.1 L534.4,413.2 L534.5,414.4 L534.6,415.6 L534.7,416.8 L534.9,418.0 L535.0,419.2 L535.1,420.4 L535.3,421.6 L535.4,422.8 L535.5,423.9 L535.7,425.1 L535.8,426.3 L535.9,427.5 L536.1,428.7 L536.2,429.9 L536.3,431.1 L536.5,432.2 L536.6,433.4 L536.8,434.6 L536.9,435.8 L537.1,437.0 L537.2,438.2 L537.4,439.4 L537.5,440.5 L537.7,441.7 L537.8,442.9 L538.0,444.1 L538.1,445.3 L538.3,446.5 L538.4,447.6 L538.6,448.8 L538.8,450.0 L538.9,451.2 L539.1,452.4 L539.3,453.6 L539.4,454.7 L539.6,455.9 L539.8,457.1 L540.0,458.3 L540.2,459.5 L540.3,460.7 L540.5,461.8 L540.7,463.0 L540.9,464.2 L541.1,465.4 L541.3,466.6 L541.5,467.7 L541.7,468.9 L541.9,470.1 L542.1,471.3 L542.3,472.5 L542.6,473.6 L542.8,474.8 L543.0,476.0 L543.2,477.2 L543.5,478.4 L543.7,479.5 L543.9,480.7 L544.2,481.9 L544.4,483.1 L544.6,484.3 L544.9,485.4 L545.1,486.6 L545.4,487.8 L545.7,489.0 L545.9,490.1 L546.2,491.3 L546.5,492.5 L546.7,493.7 L547.0,494.9 L547.3,496.0 L547.6,497.2 L547.9,498.4 L548.2,499.6 L548.5,500.7 L548.8,501.9 L549.1,503.1 L549.4,504.3 L549.7,505.5 L550.0,506.6 L550.3,507.8 L550.7,509.0 L551.0,510.2 L551.3,511.3 L551.7,512.5 L552.1,513.7 L552.4,514.8 L552.8,516.0 L553.2,517.1 L553.6,518.3 L554.0,519.4 L554.4,520.5 L554.8,521.7 L555.3,522.8 L555.7,523.9 L556.2,525.0 L556.7,526.0 L557.2,527.1 L557.7,528.2 L558.2,529.2 L558.8,530.2 L559.4,531.3 L559.9,532.3 L560.6,533.3 L561.2,534.2 L561.8,535.2 L562.5,536.1 L563.2,537.0 L563.9,537.9 L564.6,538.8 L565.4,539.7 L566.2,540.5 L567.0,541.4 L567.8,542.2 L568.7,542.9 L569.6,543.7 L570.5,544.4 L571.5,545.1 L572.4,545.8 L573.4,546.5 L574.4,547.1 L575.5,547.7 L576.5,548.3 L577.6,548.9 L578.7,549.4 L579.8,549.9 L580.9,550.4 L582.1,550.9 L583.2,551.3 L584.4,551.7 L585.6,552.1 L586.7,552.5 L587.9,552.9 L589.1,553.2 L590.3,553.5 L591.6,553.8 L592.8,554.0 L594.0,554.3 L595.2,554.5 L596.4,554.7 L597.6,554.8 L598.8,555.0 L600.1,555.1 L601.3,555.2 L602.5,555.3 L603.7,555.3 L604.9,555.3 L606.1,555.4 L607.3,555.4 L608.4,555.3 L609.6,555.3 L610.8,555.2 L612.0,555.2 L613.2,555.1 L614.4,555.0 L615.6,554.8 L616.7,554.7 L617.9,554.6 L619.1,554.4 L620.3,554.3 L621.4,554.1 L622.6,553.9 L623.8,553.7 L625.0,553.5 L626.1,553.3 L627.3,553.1 L628.5,552.8 L629.7,552.6 L630.8,552.4 L632.0,552.1 L633.2,551.9 L634.3,551.7 L635.5,551.4 L636.7,551.2 L637.9,550.9 L639.0,550.7 L640.2,550.4 L641.4,550.2 L642.6,549.9 L643.7,549.7 L644.9,549.5 L646.1,549.2 L647.3,549.0 L648.5,548.8 L649.6,548.6 L650.8,548.4 L652.0,548.2 L653.2,548.0 L654.4,547.8 L655.6,547.6 L656.8,547.4 L658.0,547.3 L659.2,547.2 L660.4,547.0 L661.6,546.9 L662.8,546.8 L664.0,546.7 L665.1,546.6 L666.3,546.5 L667.5,546.5 L668.7,546.5 L669.9,546.4 L671.1,546.4 L672.3,546.4 L673.5,546.5 L674.7,546.5 L675.9,546.6 L677.0,546.6 L678.2,546.7 L679.4,546.8 L680.6,547.0 L681.7,547.1 L682.9,547.3 L684.1,547.5 L685.2,547.7 L686.4,547.9 L687.5,548.2 L688.7,548.5 L689.8,548.8 L690.9,549.1 L692.1,549.4 L693.2,549.8 L694.3,550.2 L695.4,550.6 L696.6,551.0 L697.7,551.5 L698.8,552.0 L699.9,552.4 L701.0,552.9 L702.1,553.4 L703.2,554.0 L704.3,554.5 L705.4,555.0 L706.5,555.6 L707.5,556.1 L708.6,556.7 L709.7,557.2 L710.8,557.8 L711.9,558.3 L713.0,558.9 L714.1,559.5 L715.2,560.0 L716.2,560.6 L717.3,561.1 L718.4,561.7 L719.5,562.2 L720.6,562.8 L721.7,563.3 L722.8,563.8 L723.9,564.3 L725.0,564.8 L726.1,565.3 L727.2,565.7 L728.4,566.2 L729.5,566.6 L730.6,567.1 L731.7,567.5 L732.8,567.9 L733.9,568.3 L735.1,568.7 L736.2,569.1 L737.3,569.5 L738.5,569.8 L739.6,570.2 L740.7,570.5 L741.9,570.9 L743.0,571.2 L744.2,571.5 L745.3,571.8 L746.5,572.2 L747.6,572.4 L748.8,572.7 L749.9,573.0 L751.1,573.3 L752.2,573.5 L753.4,573.8 L754.5,574.0 L755.7,574.3 L756.9,574.5 L758.0,574.7 L759.2,575.0 L760.4,575.2 L761.5,575.4 L762.7,575.6 L763.9,575.8 L765.1,575.9 L766.2,576.1 L767.4,576.3 L768.6,576.4 L769.8,576.6 L770.9,576.8 L772.1,576.9 L773.3,577.0 L774.5,577.2 L775.7,577.3 L776.9,577.4 L778.1,577.5 L779.2,577.7 L780.4,577.8 L781.6,577.9 L782.8,578.0 L784.0,578.1 L785.2,578.2 L786.4,578.2 L787.6,578.3 L788.8,578.4 L790.0,578.5 L791.2,578.5 L792.4,578.6 L793.6,578.7 L794.8,578.7 L796.0,578.8 L797.2,578.8 L798.4,578.9 L799.6,578.9 L800.8,579.0 L802.0,579.0 L803.2,579.0 L804.4,579.1 L805.6,579.1 L806.8,579.1 L808.0,579.2 L809.2,579.2 L810.4,579.2 L811.6,579.2 L812.9,579.3 L814.1,579.3 L815.3,579.3 L816.5,579.3 L817.7,579.3 L818.9,579.3 L820.1,579.4 L821.3,579.4 L822.5,579.4 L823.7,579.4 L824.9,579.4 L826.1,579.4 L827.3,579.4 L828.5,579.4 L829.7,579.5 L831.0,579.5 L832.2,579.5 L833.4,579.5 L834.6,579.5 L835.8,579.5 L837.0,579.5 L838.2,579.6 L839.4,579.6 L840.6,579.6 L841.8,579.6 L843.0,579.6 L844.2,579.7 L845.4,579.7 L846.6,579.7 L847.8,579.7 L849.0,579.8 L850.2,579.8 L851.4,579.8 L852.6,579.9 L853.8,579.9 L855.0,580.0 L856.1,580.0 L857.3,580.1 L858.5,580.1 L859.7,580.2 L860.9,580.2 L862.1,580.3 L863.3,580.4 L864.5,580.4 L865.6,580.5 L866.8,580.6 L868.0,580.7 L869.2,580.8 L870.4,580.9 L871.5,581.0 L872.7,581.1 L873.9,581.2"/>
<path class="cv" stroke="#f00" d="M218.5,577.2 L219.7,577.2 L220.9,577.2 L222.1,577.1 L223.3,577.1 L224.5,577.1 L225.7,577.0 L226.9,577.0 L228.1,577.0 L229.3,577.0 L230.5,576.9 L231.7,576.9 L232.9,576.9 L234.0,576.8 L235.2,576.8 L236.4,576.8 L237.6,576.8 L238.8,576.7 L240.0,576.7 L241.2,576.7 L242.4,576.7 L243.6,576.7 L244.8,576.6 L246.0,576.6 L247.2,576.6 L248.4,576.6 L249.6,576.6 L250.8,576.5 L252.0,576.5 L253.2,576.5 L254.4,576.5 L255.6,576.5 L256.8,576.4 L258.0,576.4 L259.2,576.4 L260.4,576.4 L261.6,576.4 L262.8,576.4 L264.0,576.3 L265.2,576.3 L266.4,576.3 L267.6,576.3 L268.8,576.3 L270.0,576.3 L271.2,576.3 L272.4,576.2 L273.6,576.2 L274.8,576.2 L276.0,576.2 L277.2,576.2 L278.4,576.2 L279.6,576.2 L280.8,576.2 L282.0,576.1 L283.2,576.1 L284.4,576.1 L285.6,576.1 L286.8,576.1 L288.0,576.1 L289.2,576.1 L290.4,576.1 L291.6,576.1 L292.8,576.1 L294.1,576.1 L295.3,576.1 L296.5,576.0 L297.7,576.0 L298.9,576.0 L300.1,576.0 L301.3,576.0 L302.5,576.0 L303.7,576.0 L304.9,576.0 L306.1,576.0 L307.3,576.0 L308.5,576.0 L309.7,576.0 L310.9,576.0 L312.1,576.0 L313.3,576.0 L314.5,576.0 L315.7,576.0 L316.9,576.0 L318.1,576.0 L319.3,576.0 L320.5,575.9 L321.7,575.9 L322.9,575.9 L324.1,575.9 L325.3,575.9 L326.5,575.9 L327.7,575.9 L328.9,575.9 L330.1,575.9 L331.3,575.9 L332.5,575.9 L333.7,575.9 L334.9,575.9 L336.1,575.9 L337.3,575.9 L338.5,575.9 L339.7,575.9 L340.9,575.9 L342.1,575.9 L343.3,575.9 L344.5,575.9 L345.7,575.9 L346.9,575.9 L348.1,575.9 L349.3,575.9 L350.5,575.9 L351.7,575.9 L352.9,575.9 L354.1,575.9 L355.3,575.9 L356.5,575.9 L357.7,575.9 L358.9,575.9 L360.1,575.9 L361.3,575.9 L362.5,575.9 L363.7,575.9 L364.9,575.9 L366.0,575.9 L367.2,575.9 L368.4,575.9 L369.6,575.9 L370.8,575.9 L372.0,575.9 L373.2,575.9 L374.4,575.9 L375.6,575.9 L376.8,575.9 L378.0,575.9 L379.2,575.9 L380.3,575.9 L381.5,575.9 L382.7,575.9 L383.9,575.9 L385.1,575.9 L386.3,575.9 L387.5,575.9 L388.7,575.9 L389.8,575.9 L391.0,575.9 L392.2,575.9 L393.4,575.9 L394.6,575.9 L395.8,575.9 L397.0,575.9 L398.1,575.9 L399.3,575.9 L400.5,576.0 L401.7,576.0 L402.9,576.0 L404.1,576.1 L405.3,576.2 L406.5,576.3 L407.7,576.4 L408.9,576.5 L410.1,576.6 L411.4,576.8 L412.6,577.0 L413.8,577.2 L415.0,577.4 L416.3,577.7 L417.5,578.0 L418.8,578.3 L420.0,578.6 L421.3,579.0 L422.6,579.4 L423.8,579.8 L425.1,580.2 L426.4,580.7 L427.7,581.1 L428.9,581.5 L430.1,581.8 L431.3,582.0 L432.5,582.0 L433.6,582.0 L434.6,581.7 L435.6,581.3 L436.5,580.8 L437.4,580.1 L438.3,579.4 L439.1,578.5 L439.9,577.7 L440.7,576.7 L441.4,575.8 L442.1,574.8 L442.9,573.9 L443.5,572.9 L444.2,571.9 L444.8,570.9 L445.5,569.9 L446.1,568.9 L446.7,567.9 L447.2,566.9 L447.8,565.9 L448.3,564.8 L448.9,563.8 L449.4,562.7 L449.9,561.7 L450.3,560.6 L450.8,559.6 L451.3,558.5 L451.7,557.4 L452.1,556.3 L452.5,555.2 L452.9,554.1 L453.3,553.0 L453.6,551.9 L454.0,550.8 L454.3,549.7 L454.7,548.5 L455.0,547.4 L455.3,546.3 L455.6,545.1 L455.9,544.0 L456.1,542.8 L456.4,541.7 L456.6,540.5 L456.9,539.3 L457.1,538.2 L457.3,537.0 L457.6,535.8 L457.8,534.6 L458.0,533.5 L458.2,532.3 L458.3,531.1 L458.5,529.9 L458.7,528.7 L458.9,527.5 L459.0,526.3 L459.2,525.1 L459.3,523.9 L459.5,522.7 L459.6,521.5 L459.7,520.3 L459.9,519.1 L460.0,517.9 L460.1,516.6 L460.2,515.4 L460.4,514.2 L460.5,513.0 L460.6,511.8 L460.7,510.6 L460.8,509.4 L460.9,508.1 L461.0,506.9 L461.1,505.7 L461.2,504.5 L461.3,503.3 L461.5,502.1 L461.6,500.8 L461.7,499.6 L461.8,498.4 L461.9,497.2 L462.0,496.0 L462.1,494.8 L462.2,493.6 L462.4,492.4 L462.5,491.2 L462.6,489.9 L462.7,488.7 L462.8,487.5 L463.0,486.3 L463.1,485.1 L463.2,483.9 L463.3,482.7 L463.5,481.5 L463.6,480.3 L463.7,479.1 L463.8,477.9 L464.0,476.7 L464.1,475.5 L464.2,474.3 L464.4,473.1 L464.5,471.9 L464.6,470.7 L464.8,469.5 L464.9,468.3 L465.0,467.1 L465.2,466.0 L465.3,464.8 L465.4,463.6 L465.6,462.4 L465.7,461.2 L465.9,460.0 L466.0,458.8 L466.1,457.6 L466.3,456.4 L466.4,455.2 L466.5,454.0 L466.7,452.9 L466.8,451.7 L467.0,450.5 L467.1,449.3 L467.3,448.1 L467.4,446.9 L467.5,445.7 L467.7,444.5 L467.8,443.3 L468.0,442.2 L468.1,441.0 L468.2,439.8 L468.4,438.6 L468.5,437.4 L468.7,436.2 L468.8,435.0 L468.9,433.9 L469.1,432.7 L469.2,431.5 L469.4,430.3 L469.5,429.1 L469.6,427.9 L469.8,426.7 L469.9,425.6 L470.1,424.4 L470.2,423.2 L470.3,422.0 L470.5,420.8 L470.6,419.6 L470.8,418.5 L470.9,417.3 L471.0,416.1 L471.2,414.9 L471.3,413.7 L471.4,412.5 L471.6,411.3 L471.7,410.1 L471.8,409.0 L472.0,407.8 L472.1,406.6 L472.2,405.4 L472.3,404.2 L472.5,403.0 L472.6,401.8 L472.7,400.6 L472.9,399.5 L473.0,398.3 L473.1,397.1 L473.2,395.9 L473.4,394.7 L473.5,393.5 L473.6,392.3 L473.7,391.1 L473.8,389.9 L474.0,388.8 L474.1,387.6 L474.2,386.4 L474.3,385.2 L474.4,384.0 L474.6,382.8 L474.7,381.6 L474.8,380.4 L474.9,379.2 L475.0,378.0 L475.2,376.8 L475.3,375.6 L475.4,374.5 L475.5,373.3 L475.6,372.1 L475.7,370.9 L475.8,369.7 L476.0,368.5 L476.1,367.3 L476.2,366.1 L476.3,364.9 L476.4,363.7 L476.5,362.5 L476.6,361.3 L476.8,360.1 L476.9,358.9 L477.0,357.8 L477.1,356.6 L477.2,355.4 L477.3,354.2 L477.4,353.0 L477.5,351.8 L477.6,350.6 L477.8,349.4 L477.9,348.2 L478.0,347.0 L478.1,345.8 L478.2,344.6 L478.3,343.4 L478.4,342.2 L478.5,341.0 L478.6,339.8 L478.7,338.6 L478.8,337.4 L479.0,336.3 L479.1,335.1 L479.2,333.9 L479.3,332.7 L479.4,331.5 L479.5,330.3 L479.6,329.1 L479.7,327.9 L479.8,326.7 L479.9,325.5 L480.0,324.3 L480.2,323.1 L480.3,321.9 L480.4,320.7 L480.5,319.5 L480.6,318.3 L480.7,317.1 L480.8,315.9 L480.9,314.7 L481.0,313.5 L481.1,312.3 L481.2,311.1 L481.4,309.9 L481.5,308.7 L481.6,307.5 L481.7,306.4 L481.8,305.2 L481.9,304.0 L482.0,302.8 L482.1,301.6 L482.3,300.4 L482.4,299.2 L482.5,298.0 L482.6,296.8 L482.7,295.6 L482.8,294.4 L482.9,293.2 L483.0,292.0 L483.2,290.8 L483.3,289.6 L483.4,288.4 L483.5,287.2 L483.6,286.0 L483.7,284.8 L483.9,283.6 L484.0,282.4 L484.1,281.2 L484.2,280.0 L484.3,278.8 L484.4,277.7 L484.6,276.5 L484.7,275.3 L484.8,274.1 L484.9,272.9 L485.1,271.7 L485.2,270.5 L485.3,269.3 L485.4,268.1 L485.5,266.9 L485.7,265.7 L485.8,264.5 L485.9,263.3 L486.0,262.1 L486.2,260.9 L486.3,259.7 L486.4,258.5 L486.6,257.3 L486.7,256.2 L486.8,255.0 L487.0,253.8 L487.1,252.6 L487.2,251.4 L487.3,250.2 L487.5,249.0 L487.6,247.8 L487.8,246.6 L487.9,245.4 L488.0,244.2 L488.2,243.0 L488.3,241.8 L488.4,240.6 L488.6,239.5 L488.7,238.3 L488.9,237.1 L489.0,235.9 L489.1,234.7 L489.3,233.5 L489.4,232.3 L489.6,231.1 L489.7,229.9 L489.9,228.7 L490.0,227.5 L490.2,226.4 L490.3,225.2 L490.5,224.0 L490.6,222.8 L490.8,221.6 L490.9,220.4 L491.1,219.2 L491.3,218.0 L491.4,216.8 L491.6,215.6 L491.7,214.5 L491.9,213.3 L492.0,212.1 L492.2,210.9 L492.4,209.7 L492.5,208.5 L492.7,207.3 L492.9,206.1 L493.0,205.0 L493.2,203.8 L493.4,202.6 L493.6,201.4 L493.7,200.2 L493.9,199.0 L494.1,197.8 L494.2,196.7 L494.4,195.5 L494.6,194.3 L494.8,193.1 L495.0,191.9 L495.1,190.7 L495.3,189.6 L495.5,188.4 L495.7,187.2 L495.9,186.0 L496.1,184.8 L496.3,183.6 L496.5,182.5 L496.6,181.3 L496.8,180.1 L497.0,178.9 L497.2,177.7 L497.4,176.6 L497.6,175.4 L497.8,174.2 L498.0,173.0 L498.2,171.9 L498.4,170.7 L498.6,169.5 L498.8,168.3 L499.0,167.2 L499.2,166.0 L499.4,164.8 L499.6,163.7 L499.8,162.5 L500.0,161.3 L500.2,160.1 L500.4,159.0 L500.6,157.8 L500.9,156.6 L501.1,155.5 L501.4,154.3 L501.7,153.1 L502.0,152.0 L502.4,150.8 L502.8,149.6 L503.2,148.4 L503.7,147.2 L504.3,146.0 L504.9,144.8 L505.5,143.6 L506.2,142.6 L507.0,141.7 L507.7,141.1 L508.5,140.8 L509.3,140.9 L510.1,141.4 L510.9,142.1 L511.7,143.0 L512.4,144.1 L513.1,145.3 L513.7,146.6 L514.2,147.9 L514.5,149.2 L514.9,150.4 L515.1,151.6 L515.4,152.8 L515.7,154.0 L516.0,155.1 L516.3,156.3 L516.6,157.4 L516.9,158.6 L517.3,159.7 L517.6,160.8 L517.9,161.9 L518.2,163.1 L518.5,164.2 L518.8,165.3 L519.2,166.4 L519.5,167.5 L519.8,168.6 L520.1,169.8 L520.4,170.9 L520.6,172.0 L520.9,173.2 L521.2,174.3 L521.4,175.4 L521.7,176.6 L521.9,177.7 L522.2,178.9 L522.4,180.1 L522.6,181.2 L522.8,182.4 L523.0,183.6 L523.2,184.8 L523.4,185.9 L523.6,187.1 L523.8,188.3 L524.0,189.5 L524.1,190.7 L524.3,191.9 L524.5,193.1 L524.6,194.3 L524.8,195.5 L524.9,196.7 L525.1,197.9 L525.3,199.1 L525.4,200.3 L525.6,201.5 L525.7,202.7 L525.9,203.9 L526.0,205.1 L526.1,206.3 L526.3,207.5 L526.4,208.7 L526.6,209.9 L526.7,211.1 L526.9,212.3 L527.0,213.5 L527.2,214.7 L527.3,215.9 L527.5,217.1 L527.6,218.3 L527.8,219.5 L527.9,220.7 L528.1,221.9 L528.2,223.1 L528.4,224.3 L528.5,225.5 L528.7,226.7 L528.8,227.9 L529.0,229.1 L529.1,230.3 L529.2,231.4 L529.4,232.6 L529.5,233.8 L529.7,235.0 L529.8,236.2 L530.0,237.4 L530.1,238.6 L530.3,239.8 L530.4,241.0 L530.6,242.2 L530.7,243.4 L530.9,244.5 L531.0,245.7 L531.2,246.9 L531.3,248.1 L531.4,249.3 L531.6,250.5 L531.7,251.7 L531.9,252.9 L532.0,254.0 L532.2,255.2 L532.3,256.4 L532.5,257.6 L532.6,258.8 L532.8,260.0 L532.9,261.2 L533.1,262.4 L533.2,263.5 L533.3,264.7 L533.5,265.9 L533.6,267.1 L533.8,268.3 L533.9,269.5 L534.1,270.7 L534.2,271.8 L534.4,273.0 L534.5,274.2 L534.7,275.4 L534.8,276.6 L535.0,277.8 L535.1,279.0 L535.2,280.2 L535.4,281.3 L535.5,282.5 L535.7,283.7 L535.8,284.9 L536.0,286.1 L536.1,287.3 L536.3,288.5 L536.4,289.6 L536.6,290.8 L536.7,292.0 L536.9,293.2 L537.0,294.4 L537.2,295.6 L537.3,296.8 L537.5,297.9 L537.6,299.1 L537.8,300.3 L537.9,301.5 L538.0,302.7 L538.2,303.9 L538.3,305.1 L538.5,306.2 L538.6,307.4 L538.8,308.6 L538.9,309.8 L539.1,311.0 L539.2,312.2 L539.4,313.4 L539.5,314.6 L539.7,315.7 L539.8,316.9 L540.0,318.1 L540.2,319.3 L540.3,320.5 L540.5,321.7 L540.6,322.9 L540.8,324.0 L540.9,325.2 L541.1,326.4 L541.2,327.6 L541.4,328.8 L541.5,330.0 L541.7,331.2 L541.8,332.4 L542.0,333.5 L542.2,334.7 L542.3,335.9 L542.5,337.1 L542.6,338.3 L542.8,339.5 L542.9,340.7 L543.1,341.9 L543.3,343.0 L543.4,344.2 L543.6,345.4 L543.7,346.6 L543.9,347.8 L544.0,349.0 L544.2,350.2 L544.4,351.4 L544.5,352.6 L544.7,353.7 L544.9,354.9 L545.0,356.1 L545.2,357.3 L545.3,358.5 L545.5,359.7 L545.7,360.9 L545.8,362.1 L546.0,363.3 L546.2,364.5 L546.3,365.6 L546.5,366.8 L546.7,368.0 L546.8,369.2 L547.0,370.4 L547.2,371.6 L547.3,372.8 L547.5,374.0 L547.7,375.2 L547.9,376.4 L548.0,377.6 L548.2,378.7 L548.4,379.9 L548.5,381.1 L548.7,382.3 L548.9,383.5 L549.1,384.7 L549.3,385.9 L549.4,387.1 L549.6,388.3 L549.8,389.5 L550.0,390.7 L550.2,391.8 L550.3,393.0 L550.5,394.2 L550.7,395.4 L550.9,396.6 L551.1,397.8 L551.3,399.0 L551.5,400.2 L551.7,401.4 L551.9,402.5 L552.1,403.7 L552.3,404.9 L552.5,406.1 L552.7,407.3 L552.9,408.5 L553.1,409.7 L553.3,410.8 L553.5,412.0 L553.7,413.2 L554.0,414.4 L554.2,415.6 L554.4,416.8 L554.6,417.9 L554.8,419.1 L555.1,420.3 L555.3,421.5 L555.5,422.6 L555.8,423.8 L556.0,425.0 L556.2,426.2 L556.5,427.3 L556.7,428.5 L557.0,429.7 L557.2,430.9 L557.5,432.0 L557.7,433.2 L558.0,434.4 L558.2,435.5 L558.5,436.7 L558.8,437.9 L559.0,439.0 L559.3,440.2 L559.6,441.4 L559.9,442.5 L560.1,443.7 L560.4,444.8 L560.7,446.0 L561.0,447.1 L561.3,448.3 L561.6,449.5 L561.9,450.6 L562.2,451.8 L562.5,452.9 L562.8,454.1 L563.1,455.2 L563.4,456.4 L563.8,457.5 L564.1,458.6 L564.4,459.8 L564.7,460.9 L565.1,462.1 L565.4,463.2 L565.8,464.3 L566.1,465.5 L566.5,466.6 L566.8,467.7 L567.2,468.9 L567.5,470.0 L567.9,471.1 L568.3,472.2 L568.6,473.4 L569.0,474.5 L569.4,475.6 L569.8,476.7 L570.2,477.8 L570.6,478.9 L571.0,480.1 L571.4,481.2 L571.8,482.3 L572.2,483.4 L572.6,484.5 L573.1,485.6 L573.5,486.7 L573.9,487.8 L574.4,488.9 L574.8,490.0 L575.2,491.1 L575.7,492.2 L576.2,493.3 L576.6,494.3 L577.1,495.4 L577.6,496.5 L578.1,497.5 L578.6,498.6 L579.2,499.6 L579.7,500.7 L580.3,501.7 L580.8,502.7 L581.4,503.7 L582.0,504.7 L582.7,505.7 L583.3,506.6 L584.0,507.6 L584.7,508.5 L585.4,509.5 L586.1,510.4 L586.9,511.3 L587.7,512.1 L588.5,513.0 L589.3,513.8 L590.2,514.7 L591.0,515.5 L592.0,516.2 L592.9,517.0 L593.9,517.7 L594.9,518.5 L595.9,519.2 L596.9,519.8 L598.0,520.5 L599.1,521.1 L600.2,521.8 L601.3,522.3 L602.4,522.9 L603.6,523.5 L604.7,524.0 L605.9,524.5 L607.0,525.0 L608.2,525.5 L609.4,526.0 L610.6,526.4 L611.8,526.8 L612.9,527.2 L614.1,527.6 L615.3,527.9 L616.5,528.2 L617.7,528.5 L618.8,528.8 L620.0,529.1 L621.1,529.3 L622.3,529.6 L623.4,529.8 L624.6,529.9 L625.7,530.1 L626.9,530.2 L628.0,530.3 L629.1,530.4 L630.3,530.5 L631.4,530.5 L632.5,530.6 L633.6,530.6 L634.8,530.5 L635.9,530.5 L637.0,530.4 L638.1,530.3 L639.3,530.2 L640.4,530.0 L641.5,529.9 L642.7,529.7 L643.8,529.5 L644.9,529.2 L646.1,528.9 L647.2,528.6 L648.3,528.3 L649.5,528.0 L650.6,527.6 L651.8,527.2 L652.9,526.8 L654.1,526.4 L655.2,525.9 L656.4,525.4 L657.6,524.9 L658.7,524.4 L659.9,523.9 L661.1,523.4 L662.2,522.9 L663.4,522.4 L664.6,521.9 L665.7,521.4 L666.9,520.9 L668.1,520.4 L669.2,519.9 L670.4,519.5 L671.6,519.0 L672.7,518.6 L673.9,518.2 L675.0,517.9 L676.2,517.6 L677.3,517.3 L678.4,517.0 L679.6,516.8 L680.7,516.6 L681.8,516.5 L682.9,516.4 L684.0,516.3 L685.1,516.4 L686.2,516.4 L687.3,516.6 L688.3,516.7 L689.4,517.0 L690.5,517.3 L691.5,517.6 L692.6,518.0 L693.6,518.5 L694.6,518.9 L695.7,519.5 L696.7,520.0 L697.7,520.7 L698.7,521.3 L699.7,522.0 L700.7,522.7 L701.7,523.4 L702.7,524.1 L703.7,524.9 L704.7,525.7 L705.7,526.5 L706.6,527.3 L707.6,528.2 L708.6,529.0 L709.6,529.9 L710.6,530.7 L711.5,531.6 L712.5,532.5 L713.5,533.3 L714.5,534.2 L715.5,535.0 L716.5,535.8 L717.5,536.7 L718.4,537.5 L719.4,538.2 L720.4,539.0 L721.4,539.7 L722.4,540.5 L723.4,541.1 L724.5,541.8 L725.5,542.4 L726.5,543.0 L727.5,543.6 L728.6,544.2 L729.6,544.7 L730.6,545.3 L731.7,545.8 L732.7,546.3 L733.8,546.8 L734.8,547.2 L735.9,547.7 L736.9,548.2 L738.0,548.6 L739.0,549.1 L740.1,549.5 L741.2,550.0 L742.2,550.4 L743.3,550.9 L744.4,551.3 L745.4,551.8 L746.5,552.3 L747.6,552.8 L748.7,553.2 L749.7,553.7 L750.8,554.2 L751.9,554.7 L753.0,555.2 L754.1,555.7 L755.2,556.2 L756.3,556.7 L757.4,557.2 L758.4,557.7 L759.5,558.2 L760.6,558.7 L761.7,559.2 L762.8,559.7 L763.9,560.2 L765.0,560.7 L766.1,561.2 L767.3,561.7 L768.4,562.2 L769.5,562.7 L770.6,563.2 L771.7,563.6 L772.8,564.1 L773.9,564.6 L775.1,565.1 L776.2,565.5 L777.3,566.0 L778.4,566.4 L779.6,566.9 L780.7,567.3 L781.8,567.8 L783.0,568.2 L784.1,568.6 L785.2,569.0 L786.4,569.4 L787.5,569.8 L788.6,570.2 L789.8,570.6 L790.9,570.9 L792.1,571.3 L793.2,571.6 L794.4,572.0 L795.5,572.3 L796.7,572.6 L797.9,572.9 L799.0,573.2 L800.2,573.5 L801.3,573.7 L802.5,574.0 L803.7,574.2 L804.8,574.4 L806.0,574.6 L807.2,574.8 L808.4,575.0 L809.5,575.1 L810.7,575.2 L811.9,575.4 L813.1,575.5 L814.3,575.6 L815.4,575.7 L816.6,575.8 L817.8,575.8 L819.0,575.9 L820.2,575.9 L821.4,576.0 L822.6,576.0 L823.8,576.0 L825.0,576.1 L826.2,576.1 L827.4,576.1 L828.6,576.1 L829.8,576.1 L831.0,576.1 L832.2,576.1 L833.4,576.1 L834.6,576.1 L835.8,576.1 L837.0,576.1 L838.2,576.1 L839.4,576.1 L840.6,576.1 L841.8,576.1 L843.0,576.1 L844.2,576.1 L845.4,576.1 L846.6,576.1 L847.8,576.2 L849.0,576.2 L850.2,576.2 L851.4,576.3 L852.6,576.3 L853.8,576.4 L855.0,576.5 L856.2,576.5 L857.4,576.6 L858.6,576.7 L859.8,576.9 L860.9,577.0 L862.1,577.1 L863.3,577.3 L864.5,577.5 L865.7,577.6 L866.9,577.8 L868.1,578.1 L869.3,578.3 L870.5,578.6 L871.6,578.8 L872.8,579.1 L874.0,579.4"/>
<path class="cv" stroke="#000" d="M1113.6,576.4 L1114.7,576.2 L1115.8,576.0 L1117.0,575.8 L1118.1,575.7 L1119.3,575.6 L1120.4,575.5 L1121.6,575.4 L1122.8,575.4 L1124.0,575.4 L1125.1,575.4 L1126.3,575.4 L1127.5,575.4 L1128.7,575.4 L1129.9,575.5 L1131.2,575.5 L1132.4,575.6 L1133.6,575.7 L1134.8,575.8 L1136.0,575.9 L1137.3,576.0 L1138.5,576.1 L1139.7,576.2 L1141.0,576.3 L1142.2,576.5 L1143.4,576.6 L1144.7,576.7 L1145.9,576.8 L1147.1,576.9 L1148.4,577.1 L1149.6,577.2 L1150.9,577.3 L1152.1,577.4 L1153.3,577.5 L1154.6,577.6 L1155.8,577.7 L1157.0,577.7 L1158.2,577.8 L1159.5,577.8 L1160.7,577.9 L1161.9,577.9 L1163.1,577.9 L1164.3,577.9 L1165.5,577.8 L1166.7,577.8 L1167.9,577.7 L1169.1,577.6 L1170.3,577.5 L1171.5,577.3 L1172.6,577.2 L1173.8,577.0 L1174.9,576.8 L1176.1,576.5 L1177.2,576.2 L1178.4,575.9 L1179.5,575.6 L1180.6,575.3 L1181.7,574.9 L1182.9,574.6 L1184.0,574.2 L1185.1,573.9 L1186.2,573.5 L1187.3,573.1 L1188.4,572.7 L1189.6,572.4 L1190.7,572.0 L1191.8,571.7 L1192.9,571.4 L1194.1,571.1 L1195.2,570.8 L1196.4,570.5 L1197.5,570.3 L1198.7,570.1 L1199.9,570.0 L1201.1,569.8 L1202.3,569.7 L1203.5,569.7 L1204.7,569.7 L1205.9,569.8 L1207.2,569.8 L1208.5,570.0 L1209.7,570.1 L1211.0,570.3 L1212.3,570.6 L1213.6,570.8 L1214.9,571.1 L1216.2,571.3 L1217.5,571.6 L1218.7,571.9 L1220.0,572.1 L1221.3,572.4 L1222.6,572.6 L1223.9,572.8 L1225.1,573.0 L1226.4,573.2 L1227.6,573.3 L1228.8,573.4 L1230.0,573.4 L1231.2,573.4 L1232.4,573.4 L1233.5,573.2 L1234.6,573.0 L1235.7,572.8 L1236.8,572.5 L1237.8,572.1 L1238.9,571.6 L1239.9,571.2 L1240.9,570.6 L1241.8,570.0 L1242.8,569.4 L1243.7,568.7 L1244.6,568.0 L1245.5,567.3 L1246.3,566.5 L1247.1,565.7 L1248.0,564.8 L1248.7,564.0 L1249.5,563.1 L1250.3,562.2 L1251.0,561.3 L1251.7,560.4 L1252.4,559.5 L1253.1,558.6 L1253.8,557.6 L1254.4,556.7 L1255.0,555.7 L1255.6,554.7 L1256.2,553.7 L1256.8,552.7 L1257.3,551.7 L1257.9,550.7 L1258.4,549.7 L1258.9,548.7 L1259.4,547.6 L1259.9,546.6 L1260.3,545.6 L1260.8,544.5 L1261.2,543.4 L1261.6,542.3 L1262.0,541.3 L1262.4,540.2 L1262.8,539.1 L1263.2,538.0 L1263.5,536.9 L1263.9,535.7 L1264.2,534.6 L1264.5,533.5 L1264.8,532.4 L1265.1,531.2 L1265.4,530.1 L1265.7,528.9 L1266.0,527.8 L1266.2,526.6 L1266.5,525.4 L1266.7,524.3 L1266.9,523.1 L1267.2,521.9 L1267.4,520.7 L1267.6,519.5 L1267.8,518.3 L1268.0,517.1 L1268.2,515.9 L1268.3,514.7 L1268.5,513.5 L1268.7,512.3 L1268.8,511.1 L1269.0,509.9 L1269.1,508.7 L1269.3,507.5 L1269.4,506.2 L1269.6,505.0 L1269.7,503.8 L1269.8,502.6 L1269.9,501.3 L1270.1,500.1 L1270.2,498.9 L1270.3,497.6 L1270.4,496.4 L1270.5,495.2 L1270.6,493.9 L1270.7,492.7 L1270.9,491.5 L1271.0,490.2 L1271.1,489.0 L1271.2,487.8 L1271.3,486.6 L1271.4,485.3 L1271.5,484.1 L1271.6,482.9 L1271.7,481.6 L1271.8,480.4 L1272.0,479.2 L1272.1,478.0 L1272.2,476.7 L1272.3,475.5 L1272.4,474.3 L1272.6,473.1 L1272.7,471.9 L1272.8,470.7 L1273.0,469.5 L1273.1,468.3 L1273.2,467.1 L1273.4,465.8 L1273.5,464.6 L1273.7,463.4 L1273.8,462.2 L1273.9,461.0 L1274.1,459.8 L1274.2,458.6 L1274.4,457.4 L1274.5,456.3 L1274.7,455.1 L1274.8,453.9 L1275.0,452.7 L1275.1,451.5 L1275.3,450.3 L1275.5,449.1 L1275.6,447.9 L1275.8,446.7 L1275.9,445.5 L1276.1,444.4 L1276.3,443.2 L1276.4,442.0 L1276.6,440.8 L1276.8,439.6 L1276.9,438.5 L1277.1,437.3 L1277.3,436.1 L1277.4,434.9 L1277.6,433.7 L1277.8,432.6 L1277.9,431.4 L1278.1,430.2 L1278.3,429.0 L1278.4,427.9 L1278.6,426.7 L1278.8,425.5 L1279.0,424.3 L1279.1,423.2 L1279.3,422.0 L1279.5,420.8 L1279.6,419.6 L1279.8,418.5 L1280.0,417.3 L1280.2,416.1 L1280.3,415.0 L1280.5,413.8 L1280.7,412.6 L1280.8,411.4 L1281.0,410.3 L1281.2,409.1 L1281.4,407.9 L1281.5,406.8 L1281.7,405.6 L1281.9,404.4 L1282.0,403.2 L1282.2,402.1 L1282.4,400.9 L1282.5,399.7 L1282.7,398.5 L1282.9,397.4 L1283.0,396.2 L1283.2,395.0 L1283.4,393.8 L1283.5,392.7 L1283.7,391.5 L1283.8,390.3 L1284.0,389.1 L1284.1,387.9 L1284.3,386.8 L1284.5,385.6 L1284.6,384.4 L1284.8,383.2 L1284.9,382.0 L1285.1,380.9 L1285.2,379.7 L1285.4,378.5 L1285.5,377.3 L1285.7,376.1 L1285.8,374.9 L1286.0,373.8 L1286.1,372.6 L1286.2,371.4 L1286.4,370.2 L1286.5,369.0 L1286.7,367.8 L1286.8,366.6 L1286.9,365.4 L1287.1,364.3 L1287.2,363.1 L1287.4,361.9 L1287.5,360.7 L1287.6,359.5 L1287.8,358.3 L1287.9,357.1 L1288.0,355.9 L1288.2,354.7 L1288.3,353.5 L1288.4,352.3 L1288.6,351.1 L1288.7,349.9 L1288.8,348.8 L1289.0,347.6 L1289.1,346.4 L1289.2,345.2 L1289.3,344.0 L1289.5,342.8 L1289.6,341.6 L1289.7,340.4 L1289.9,339.2 L1290.0,338.0 L1290.1,336.8 L1290.2,335.6 L1290.4,334.4 L1290.5,333.2 L1290.6,332.0 L1290.7,330.8 L1290.9,329.6 L1291.0,328.4 L1291.1,327.2 L1291.2,326.0 L1291.3,324.8 L1291.5,323.6 L1291.6,322.4 L1291.7,321.2 L1291.8,320.0 L1292.0,318.8 L1292.1,317.6 L1292.2,316.4 L1292.3,315.2 L1292.4,314.0 L1292.6,312.8 L1292.7,311.6 L1292.8,310.4 L1292.9,309.2 L1293.1,308.0 L1293.2,306.8 L1293.3,305.6 L1293.4,304.4 L1293.5,303.2 L1293.7,302.0 L1293.8,300.8 L1293.9,299.6 L1294.0,298.4 L1294.2,297.2 L1294.3,296.0 L1294.4,294.8 L1294.5,293.6 L1294.7,292.4 L1294.8,291.2 L1294.9,290.0 L1295.0,288.8 L1295.1,287.6 L1295.3,286.4 L1295.4,285.2 L1295.5,284.0 L1295.6,282.8 L1295.8,281.6 L1295.9,280.4 L1296.0,279.2 L1296.2,278.0 L1296.3,276.8 L1296.4,275.6 L1296.5,274.4 L1296.7,273.2 L1296.8,272.0 L1296.9,270.8 L1297.1,269.6 L1297.2,268.4 L1297.3,267.2 L1297.5,266.0 L1297.6,264.8 L1297.7,263.6 L1297.9,262.4 L1298.0,261.2 L1298.2,260.0 L1298.3,258.8 L1298.4,257.7 L1298.6,256.5 L1298.7,255.3 L1298.9,254.1 L1299.0,252.9 L1299.2,251.7 L1299.3,250.5 L1299.5,249.3 L1299.6,248.1 L1299.8,246.9 L1299.9,245.7 L1300.1,244.5 L1300.3,243.4 L1300.4,242.2 L1300.6,241.0 L1300.8,239.8 L1300.9,238.6 L1301.1,237.4 L1301.3,236.2 L1301.4,235.1 L1301.6,233.9 L1301.8,232.7 L1302.0,231.5 L1302.2,230.3 L1302.3,229.1 L1302.5,228.0 L1302.7,226.8 L1302.9,225.6 L1303.1,224.4 L1303.3,223.2 L1303.5,222.1 L1303.7,220.9 L1303.9,219.7 L1304.1,218.5 L1304.3,217.4 L1304.6,216.2 L1304.8,215.0 L1305.0,213.8 L1305.2,212.7 L1305.5,211.5 L1305.7,210.3 L1305.9,209.2 L1306.2,208.0 L1306.4,206.8 L1306.6,205.7 L1306.9,204.5 L1307.1,203.3 L1307.4,202.2 L1307.6,201.0 L1307.9,199.8 L1308.2,198.7 L1308.4,197.5 L1308.7,196.4 L1309.0,195.2 L1309.3,194.1 L1309.5,192.9 L1309.8,191.7 L1310.1,190.6 L1310.4,189.4 L1310.7,188.3 L1311.0,187.1 L1311.3,186.0 L1311.6,184.8 L1311.9,183.7 L1312.3,182.6 L1312.6,181.4 L1312.9,180.3 L1313.3,179.1 L1313.6,178.0 L1313.9,176.8 L1314.3,175.7 L1314.6,174.6 L1315.0,173.4 L1315.3,172.3 L1315.7,171.2 L1316.1,170.0 L1316.4,168.9 L1316.8,167.8 L1317.2,166.6 L1317.6,165.5 L1318.0,164.4 L1318.4,163.2 L1318.7,162.1 L1319.1,161.0 L1319.5,159.8 L1319.9,158.7 L1320.3,157.6 L1320.7,156.4 L1321.1,155.3 L1321.5,154.1 L1321.9,153.0 L1322.2,151.8 L1322.6,150.6 L1323.0,149.5 L1323.4,148.3 L1323.8,147.1 L1324.2,146.0 L1324.6,144.8 L1325.1,143.7 L1325.8,142.6 L1326.5,141.6 L1327.5,140.7 L1328.5,140.1 L1329.5,139.8 L1330.5,140.0 L1331.4,140.6 L1332.2,141.4 L1333.0,142.4 L1333.8,143.3 L1334.5,144.3 L1335.2,145.3 L1335.8,146.4 L1336.5,147.4 L1337.1,148.5 L1337.7,149.5 L1338.2,150.6 L1338.7,151.7 L1339.2,152.8 L1339.7,153.9 L1340.2,155.0 L1340.7,156.2 L1341.1,157.3 L1341.5,158.4 L1341.9,159.6 L1342.3,160.7 L1342.7,161.8 L1343.1,163.0 L1343.5,164.1 L1343.9,165.3 L1344.3,166.4 L1344.7,167.5 L1345.1,168.7 L1345.4,169.8 L1345.8,171.0 L1346.2,172.1 L1346.5,173.2 L1346.9,174.3 L1347.3,175.5 L1347.6,176.6 L1348.0,177.7 L1348.3,178.9 L1348.7,180.0 L1349.0,181.1 L1349.4,182.3 L1349.7,183.4 L1350.0,184.5 L1350.4,185.6 L1350.7,186.8 L1351.0,187.9 L1351.4,189.1 L1351.7,190.2 L1352.0,191.3 L1352.3,192.5 L1352.7,193.6 L1353.0,194.8 L1353.3,195.9 L1353.6,197.1 L1353.9,198.2 L1354.2,199.4 L1354.5,200.5 L1354.8,201.7 L1355.1,202.8 L1355.4,204.0 L1355.7,205.1 L1356.0,206.3 L1356.3,207.4 L1356.5,208.6 L1356.8,209.8 L1357.1,210.9 L1357.4,212.1 L1357.7,213.2 L1357.9,214.4 L1358.2,215.6 L1358.5,216.7 L1358.7,217.9 L1359.0,219.1 L1359.3,220.3 L1359.5,221.4 L1359.8,222.6 L1360.1,223.8 L1360.3,224.9 L1360.6,226.1 L1360.8,227.3 L1361.1,228.5 L1361.3,229.6 L1361.6,230.8 L1361.8,232.0 L1362.1,233.2 L1362.3,234.4 L1362.6,235.5 L1362.8,236.7 L1363.1,237.9 L1363.3,239.1 L1363.5,240.3 L1363.8,241.4 L1364.0,242.6 L1364.2,243.8 L1364.5,245.0 L1364.7,246.2 L1364.9,247.4 L1365.2,248.5 L1365.4,249.7 L1365.6,250.9 L1365.9,252.1 L1366.1,253.3 L1366.3,254.5 L1366.5,255.7 L1366.8,256.8 L1367.0,258.0 L1367.2,259.2 L1367.4,260.4 L1367.7,261.6 L1367.9,262.8 L1368.1,264.0 L1368.3,265.1 L1368.5,266.3 L1368.8,267.5 L1369.0,268.7 L1369.2,269.9 L1369.4,271.1 L1369.6,272.3 L1369.9,273.5 L1370.1,274.6 L1370.3,275.8 L1370.5,277.0 L1370.7,278.2 L1370.9,279.4 L1371.2,280.6 L1371.4,281.8 L1371.6,282.9 L1371.8,284.1 L1372.0,285.3 L1372.2,286.5 L1372.5,287.7 L1372.7,288.9 L1372.9,290.0 L1373.1,291.2 L1373.3,292.4 L1373.5,293.6 L1373.8,294.8 L1374.0,295.9 L1374.2,297.1 L1374.4,298.3 L1374.6,299.5 L1374.9,300.6 L1375.1,301.8 L1375.3,303.0 L1375.5,304.2 L1375.7,305.3 L1376.0,306.5 L1376.2,307.7 L1376.4,308.9 L1376.6,310.0 L1376.9,311.2 L1377.1,312.4 L1377.3,313.5 L1377.6,314.7 L1377.8,315.9 L1378.0,317.1 L1378.2,318.2 L1378.5,319.4 L1378.7,320.6 L1378.9,321.7 L1379.2,322.9 L1379.4,324.1 L1379.6,325.2 L1379.9,326.4 L1380.1,327.5 L1380.3,328.7 L1380.6,329.9 L1380.8,331.0 L1381.1,332.2 L1381.3,333.4 L1381.5,334.5 L1381.8,335.7 L1382.0,336.9 L1382.3,338.0 L1382.5,339.2 L1382.8,340.4 L1383.0,341.5 L1383.2,342.7 L1383.5,343.8 L1383.7,345.0 L1384.0,346.2 L1384.2,347.3 L1384.5,348.5 L1384.7,349.7 L1385.0,350.8 L1385.2,352.0 L1385.5,353.1 L1385.8,354.3 L1386.0,355.5 L1386.3,356.6 L1386.5,357.8 L1386.8,359.0 L1387.1,360.1 L1387.3,361.3 L1387.6,362.5 L1387.8,363.6 L1388.1,364.8 L1388.4,366.0 L1388.6,367.1 L1388.9,368.3 L1389.2,369.5 L1389.5,370.6 L1389.7,371.8 L1390.0,373.0 L1390.3,374.1 L1390.6,375.3 L1390.8,376.5 L1391.1,377.7 L1391.4,378.8 L1391.7,380.0 L1391.9,381.2 L1392.2,382.4 L1392.5,383.5 L1392.8,384.7 L1393.1,385.9 L1393.4,387.1 L1393.7,388.2 L1394.0,389.4 L1394.2,390.6 L1394.5,391.8 L1394.8,393.0 L1395.1,394.1 L1395.4,395.3 L1395.7,396.5 L1396.0,397.7 L1396.3,398.9 L1396.6,400.1 L1396.9,401.2 L1397.2,402.4 L1397.5,403.6 L1397.9,404.8 L1398.2,406.0 L1398.5,407.2 L1398.8,408.4 L1399.1,409.6 L1399.4,410.8 L1399.7,412.0 L1400.0,413.2 L1400.4,414.4 L1400.7,415.6 L1401.0,416.7 L1401.4,417.9 L1401.7,419.1 L1402.1,420.3 L1402.4,421.5 L1402.8,422.6 L1403.2,423.8 L1403.5,425.0 L1403.9,426.1 L1404.3,427.3 L1404.8,428.4 L1405.2,429.5 L1405.6,430.6 L1406.1,431.7 L1406.6,432.8 L1407.1,433.9 L1407.6,435.0 L1408.1,436.0 L1408.6,437.0 L1409.2,438.1 L1409.8,439.1 L1410.4,440.1 L1411.0,441.0 L1411.6,442.0 L1412.3,442.9 L1413.0,443.8 L1413.7,444.7 L1414.4,445.6 L1415.2,446.4 L1416.0,447.2 L1416.8,448.0 L1417.6,448.8 L1418.5,449.6 L1419.4,450.3 L1420.3,451.0 L1421.2,451.7 L1422.2,452.3 L1423.2,453.0 L1424.2,453.6 L1425.2,454.2 L1426.3,454.8 L1427.3,455.4 L1428.4,456.0 L1429.5,456.6 L1430.6,457.1 L1431.6,457.7 L1432.8,458.2 L1433.9,458.7 L1435.0,459.3 L1436.1,459.8 L1437.2,460.3 L1438.3,460.9 L1439.4,461.4 L1440.5,461.9 L1441.6,462.5 L1442.7,463.0 L1443.8,463.6 L1444.9,464.1 L1446.0,464.7 L1447.1,465.2 L1448.1,465.8 L1449.2,466.4 L1450.3,466.9 L1451.3,467.5 L1452.4,468.1 L1453.4,468.7 L1454.4,469.3 L1455.4,469.9 L1456.5,470.5 L1457.5,471.2 L1458.5,471.8 L1459.5,472.4 L1460.5,473.1 L1461.5,473.7 L1462.4,474.4 L1463.4,475.1 L1464.4,475.7 L1465.3,476.4 L1466.3,477.1 L1467.2,477.8 L1468.1,478.5 L1469.0,479.3 L1470.0,480.0 L1470.9,480.7 L1471.8,481.5 L1472.7,482.2 L1473.5,483.0 L1474.4,483.8 L1475.3,484.6 L1476.1,485.4 L1477.0,486.2 L1477.8,487.0 L1478.7,487.8 L1479.5,488.6 L1480.4,489.4 L1481.2,490.3 L1482.0,491.1 L1482.8,492.0 L1483.6,492.8 L1484.5,493.7 L1485.3,494.5 L1486.1,495.4 L1486.9,496.3 L1487.7,497.2 L1488.5,498.0 L1489.3,498.9 L1490.1,499.8 L1490.9,500.7 L1491.7,501.6 L1492.5,502.5 L1493.2,503.4 L1494.0,504.3 L1494.8,505.2 L1495.6,506.1 L1496.4,507.1 L1497.2,508.0 L1498.0,508.9 L1498.8,509.8 L1499.6,510.7 L1500.4,511.6 L1501.2,512.6 L1502.0,513.5 L1502.8,514.4 L1503.6,515.3 L1504.5,516.2 L1505.3,517.1 L1506.1,518.1 L1506.9,519.0 L1507.7,519.9 L1508.6,520.8 L1509.4,521.7 L1510.2,522.6 L1511.1,523.5 L1511.9,524.4 L1512.8,525.3 L1513.6,526.2 L1514.5,527.1 L1515.3,527.9 L1516.2,528.8 L1517.1,529.7 L1517.9,530.5 L1518.8,531.4 L1519.7,532.2 L1520.6,533.1 L1521.5,533.9 L1522.4,534.8 L1523.3,535.6 L1524.2,536.4 L1525.1,537.2 L1526.0,538.0 L1526.9,538.8 L1527.8,539.6 L1528.7,540.3 L1529.7,541.1 L1530.6,541.8 L1531.6,542.6 L1532.5,543.3 L1533.5,544.0 L1534.4,544.7 L1535.4,545.4 L1536.4,546.1 L1537.3,546.8 L1538.3,547.5 L1539.3,548.1 L1540.3,548.7 L1541.3,549.4 L1542.3,550.0 L1543.3,550.6 L1544.4,551.1 L1545.4,551.7 L1546.4,552.3 L1547.5,552.8 L1548.5,553.3 L1549.6,553.8 L1550.7,554.3 L1551.7,554.8 L1552.8,555.2 L1553.9,555.7 L1555.0,556.1 L1556.1,556.5 L1557.2,556.9 L1558.3,557.3 L1559.4,557.6 L1560.6,558.0 L1561.7,558.3 L1562.8,558.7 L1564.0,559.0 L1565.1,559.3 L1566.3,559.6 L1567.4,559.9 L1568.6,560.2 L1569.8,560.4 L1570.9,560.7 L1572.1,561.0 L1573.3,561.2 L1574.4,561.5 L1575.6,561.8 L1576.8,562.0 L1577.9,562.3 L1579.1,562.5 L1580.3,562.8 L1581.5,563.0 L1582.6,563.3 L1583.8,563.5 L1585.0,563.8 L1586.2,564.0 L1587.3,564.3 L1588.5,564.5 L1589.7,564.8 L1590.9,565.0 L1592.0,565.3 L1593.2,565.5 L1594.4,565.7 L1595.6,566.0 L1596.8,566.2 L1597.9,566.5 L1599.1,566.7 L1600.3,566.9 L1601.5,567.1 L1602.7,567.4 L1603.8,567.6 L1605.0,567.8 L1606.2,568.0 L1607.4,568.2 L1608.6,568.4 L1609.7,568.6 L1610.9,568.8 L1612.1,569.0 L1613.3,569.2 L1614.5,569.4 L1615.6,569.6 L1616.8,569.8 L1618.0,570.0 L1619.2,570.2 L1620.4,570.3 L1621.6,570.5 L1622.8,570.7 L1623.9,570.8 L1625.1,571.0 L1626.3,571.2 L1627.5,571.3 L1628.7,571.5 L1629.9,571.6 L1631.1,571.8 L1632.2,571.9 L1633.4,572.1 L1634.6,572.2 L1635.8,572.3 L1637.0,572.5 L1638.2,572.6 L1639.4,572.7 L1640.6,572.9 L1641.8,573.0 L1642.9,573.1 L1644.1,573.2 L1645.3,573.3 L1646.5,573.5 L1647.7,573.6 L1648.9,573.7 L1650.1,573.8 L1651.3,573.9 L1652.5,574.0 L1653.7,574.1 L1654.9,574.2 L1656.0,574.3 L1657.2,574.4 L1658.4,574.5 L1659.6,574.5 L1660.8,574.6 L1662.0,574.7 L1663.2,574.8 L1664.4,574.9 L1665.6,575.0 L1666.8,575.0 L1668.0,575.1 L1669.2,575.2 L1670.4,575.3 L1671.6,575.3 L1672.8,575.4 L1673.9,575.5 L1675.1,575.5 L1676.3,575.6 L1677.5,575.6 L1678.7,575.7 L1679.9,575.8 L1681.1,575.8 L1682.3,575.9 L1683.5,575.9 L1684.7,576.0 L1685.9,576.0 L1687.1,576.1 L1688.3,576.1 L1689.5,576.2 L1690.7,576.2 L1691.9,576.2 L1693.1,576.3 L1694.3,576.3 L1695.5,576.4 L1696.7,576.4 L1697.9,576.4 L1699.1,576.5 L1700.3,576.5 L1701.5,576.5 L1702.7,576.6 L1703.9,576.6 L1705.1,576.6 L1706.3,576.6 L1707.5,576.7 L1708.7,576.7 L1709.9,576.7 L1711.1,576.7 L1712.3,576.8 L1713.4,576.8 L1714.6,576.8 L1715.8,576.8 L1717.0,576.8 L1718.2,576.9 L1719.4,576.9 L1720.6,576.9 L1721.8,576.9 L1723.0,576.9 L1724.2,577.0 L1725.4,577.0 L1726.6,577.0 L1727.8,577.0 L1729.0,577.0 L1730.2,577.0 L1731.4,577.0 L1732.6,577.0 L1733.8,577.1 L1735.0,577.1 L1736.2,577.1 L1737.4,577.1 L1738.6,577.1 L1739.8,577.1 L1741.0,577.1 L1742.2,577.1 L1743.4,577.1 L1744.6,577.2 L1745.8,577.2 L1747.0,577.2 L1748.2,577.2 L1749.4,577.2 L1750.6,577.2 L1751.8,577.2 L1753.0,577.2 L1754.2,577.2 L1755.4,577.3 L1756.6,577.3 L1757.8,577.3 L1759.0,577.3 L1760.2,577.3 L1761.4,577.3 L1762.6,577.3 L1763.8,577.3 L1765.0,577.4 L1766.2,577.4 L1767.4,577.4 L1768.6,577.4 L1769.8,577.4 L1771.0,577.4 L1772.2,577.4 L1773.3,577.5 L1774.5,577.5 L1775.7,577.5 L1776.9,577.5 L1778.1,577.5 L1779.3,577.6 L1780.5,577.6 L1781.7,577.6 L1782.9,577.6 L1784.1,577.6 L1785.3,577.7"/>
<path class="cv" stroke="#00f" d="M1113.5,573.2 L1114.7,573.2 L1116.0,573.1 L1117.2,573.1 L1118.5,573.1 L1119.7,573.0 L1121.0,573.0 L1122.2,573.0 L1123.4,573.0 L1124.7,572.9 L1125.9,572.9 L1127.1,572.9 L1128.3,572.9 L1129.5,572.9 L1130.7,572.9 L1131.9,572.9 L1133.1,572.9 L1134.3,572.9 L1135.5,572.9 L1136.7,572.9 L1137.9,572.9 L1139.1,572.9 L1140.3,572.9 L1141.5,572.9 L1142.7,572.9 L1143.9,572.9 L1145.1,572.9 L1146.2,572.9 L1147.4,572.9 L1148.6,572.9 L1149.8,572.9 L1150.9,572.9 L1152.1,572.9 L1153.3,572.9 L1154.5,572.9 L1155.6,572.9 L1156.8,572.9 L1158.0,573.0 L1159.2,573.0 L1160.3,573.0 L1161.5,573.0 L1162.7,573.0 L1163.8,573.0 L1165.0,573.0 L1166.2,573.0 L1167.3,573.0 L1168.5,573.0 L1169.7,573.0 L1170.9,572.9 L1172.0,572.9 L1173.2,572.9 L1174.4,572.9 L1175.6,572.9 L1176.8,572.9 L1177.9,572.9 L1179.1,572.9 L1180.3,572.8 L1181.5,572.8 L1182.7,572.8 L1183.9,572.7 L1185.1,572.7 L1186.2,572.7 L1187.4,572.6 L1188.6,572.6 L1189.8,572.6 L1191.0,572.5 L1192.2,572.5 L1193.5,572.4 L1194.7,572.3 L1195.9,572.3 L1197.1,572.2 L1198.3,572.1 L1199.6,572.1 L1200.8,572.0 L1202.0,571.9 L1203.2,571.8 L1204.5,571.7 L1205.7,571.6 L1207.0,571.5 L1208.2,571.4 L1209.5,571.3 L1210.7,571.2 L1212.0,571.0 L1213.2,570.9 L1214.4,570.7 L1215.7,570.5 L1216.9,570.3 L1218.1,570.1 L1219.3,569.8 L1220.5,569.6 L1221.7,569.3 L1222.8,568.9 L1224.0,568.6 L1225.1,568.2 L1226.2,567.8 L1227.3,567.3 L1228.4,566.9 L1229.4,566.4 L1230.5,565.9 L1231.5,565.3 L1232.5,564.8 L1233.5,564.2 L1234.5,563.6 L1235.5,562.9 L1236.4,562.3 L1237.4,561.6 L1238.3,560.9 L1239.2,560.2 L1240.1,559.5 L1241.0,558.7 L1241.9,558.0 L1242.8,557.2 L1243.6,556.4 L1244.5,555.5 L1245.3,554.7 L1246.1,553.8 L1246.9,553.0 L1247.7,552.1 L1248.5,551.2 L1249.3,550.3 L1250.1,549.4 L1250.8,548.4 L1251.6,547.5 L1252.3,546.5 L1253.0,545.6 L1253.7,544.6 L1254.4,543.6 L1255.1,542.6 L1255.8,541.6 L1256.5,540.6 L1257.2,539.6 L1257.8,538.5 L1258.5,537.5 L1259.1,536.5 L1259.7,535.4 L1260.4,534.4 L1261.0,533.3 L1261.6,532.3 L1262.2,531.2 L1262.8,530.2 L1263.4,529.1 L1264.0,528.1 L1264.6,527.0 L1265.1,525.9 L1265.7,524.9 L1266.3,523.8 L1266.8,522.7 L1267.4,521.7 L1267.9,520.6 L1268.4,519.5 L1269.0,518.4 L1269.5,517.3 L1270.0,516.3 L1270.5,515.2 L1271.0,514.1 L1271.5,513.0 L1272.0,511.9 L1272.5,510.8 L1273.0,509.7 L1273.4,508.6 L1273.9,507.5 L1274.4,506.4 L1274.8,505.3 L1275.3,504.2 L1275.7,503.1 L1276.1,502.0 L1276.6,500.9 L1277.0,499.8 L1277.4,498.6 L1277.8,497.5 L1278.3,496.4 L1278.7,495.3 L1279.1,494.2 L1279.5,493.0 L1279.8,491.9 L1280.2,490.8 L1280.6,489.7 L1281.0,488.5 L1281.4,487.4 L1281.7,486.3 L1282.1,485.1 L1282.4,484.0 L1282.8,482.9 L1283.1,481.7 L1283.5,480.6 L1283.8,479.5 L1284.2,478.3 L1284.5,477.2 L1284.8,476.0 L1285.1,474.9 L1285.4,473.7 L1285.8,472.6 L1286.1,471.4 L1286.4,470.3 L1286.7,469.1 L1287.0,468.0 L1287.3,466.8 L1287.5,465.7 L1287.8,464.5 L1288.1,463.3 L1288.4,462.2 L1288.7,461.0 L1288.9,459.9 L1289.2,458.7 L1289.5,457.5 L1289.7,456.4 L1290.0,455.2 L1290.2,454.0 L1290.5,452.9 L1290.7,451.7 L1291.0,450.5 L1291.2,449.3 L1291.5,448.2 L1291.7,447.0 L1291.9,445.8 L1292.1,444.7 L1292.4,443.5 L1292.6,442.3 L1292.8,441.1 L1293.0,439.9 L1293.3,438.8 L1293.5,437.6 L1293.7,436.4 L1293.9,435.2 L1294.1,434.0 L1294.3,432.9 L1294.5,431.7 L1294.7,430.5 L1294.9,429.3 L1295.1,428.1 L1295.3,426.9 L1295.5,425.8 L1295.6,424.6 L1295.8,423.4 L1296.0,422.2 L1296.2,421.0 L1296.4,419.8 L1296.6,418.6 L1296.7,417.4 L1296.9,416.2 L1297.1,415.1 L1297.3,413.9 L1297.4,412.7 L1297.6,411.5 L1297.8,410.3 L1297.9,409.1 L1298.1,407.9 L1298.3,406.7 L1298.4,405.5 L1298.6,404.3 L1298.8,403.1 L1298.9,401.9 L1299.1,400.7 L1299.2,399.5 L1299.4,398.4 L1299.6,397.2 L1299.7,396.0 L1299.9,394.8 L1300.0,393.6 L1300.2,392.4 L1300.3,391.2 L1300.5,390.0 L1300.6,388.8 L1300.8,387.6 L1301.0,386.4 L1301.1,385.2 L1301.3,384.0 L1301.4,382.8 L1301.6,381.6 L1301.7,380.4 L1301.9,379.2 L1302.0,378.0 L1302.2,376.8 L1302.3,375.7 L1302.5,374.5 L1302.6,373.3 L1302.8,372.1 L1303.0,370.9 L1303.1,369.7 L1303.3,368.5 L1303.4,367.3 L1303.6,366.1 L1303.7,364.9 L1303.9,363.7 L1304.0,362.5 L1304.2,361.3 L1304.4,360.2 L1304.5,359.0 L1304.7,357.8 L1304.8,356.6 L1305.0,355.4 L1305.1,354.2 L1305.3,353.0 L1305.5,351.8 L1305.6,350.6 L1305.8,349.4 L1305.9,348.3 L1306.1,347.1 L1306.2,345.9 L1306.4,344.7 L1306.6,343.5 L1306.7,342.3 L1306.9,341.1 L1307.1,339.9 L1307.2,338.7 L1307.4,337.6 L1307.5,336.4 L1307.7,335.2 L1307.9,334.0 L1308.0,332.8 L1308.2,331.6 L1308.4,330.4 L1308.5,329.2 L1308.7,328.1 L1308.9,326.9 L1309.0,325.7 L1309.2,324.5 L1309.3,323.3 L1309.5,322.1 L1309.7,320.9 L1309.9,319.8 L1310.0,318.6 L1310.2,317.4 L1310.4,316.2 L1310.5,315.0 L1310.7,313.8 L1310.9,312.6 L1311.0,311.5 L1311.2,310.3 L1311.4,309.1 L1311.6,307.9 L1311.7,306.7 L1311.9,305.5 L1312.1,304.3 L1312.3,303.2 L1312.4,302.0 L1312.6,300.8 L1312.8,299.6 L1313.0,298.4 L1313.1,297.2 L1313.3,296.1 L1313.5,294.9 L1313.7,293.7 L1313.9,292.5 L1314.0,291.3 L1314.2,290.1 L1314.4,289.0 L1314.6,287.8 L1314.8,286.6 L1315.0,285.4 L1315.1,284.2 L1315.3,283.1 L1315.5,281.9 L1315.7,280.7 L1315.9,279.5 L1316.1,278.3 L1316.3,277.1 L1316.5,276.0 L1316.6,274.8 L1316.8,273.6 L1317.0,272.4 L1317.2,271.2 L1317.4,270.1 L1317.6,268.9 L1317.8,267.7 L1318.0,266.5 L1318.2,265.3 L1318.4,264.2 L1318.6,263.0 L1318.8,261.8 L1319.0,260.6 L1319.2,259.4 L1319.4,258.3 L1319.6,257.1 L1319.8,255.9 L1320.0,254.7 L1320.2,253.5 L1320.4,252.4 L1320.6,251.2 L1320.8,250.0 L1321.0,248.8 L1321.2,247.7 L1321.4,246.5 L1321.7,245.3 L1321.9,244.1 L1322.1,242.9 L1322.3,241.8 L1322.5,240.6 L1322.7,239.4 L1322.9,238.2 L1323.2,237.1 L1323.4,235.9 L1323.6,234.7 L1323.8,233.5 L1324.0,232.3 L1324.2,231.2 L1324.5,230.0 L1324.7,228.8 L1324.9,227.6 L1325.1,226.5 L1325.4,225.3 L1325.6,224.1 L1325.8,222.9 L1326.0,221.7 L1326.3,220.6 L1326.5,219.4 L1326.7,218.2 L1327.0,217.0 L1327.2,215.9 L1327.4,214.7 L1327.7,213.5 L1327.9,212.3 L1328.2,211.2 L1328.4,210.0 L1328.6,208.8 L1328.9,207.6 L1329.1,206.5 L1329.4,205.3 L1329.6,204.1 L1329.9,202.9 L1330.1,201.8 L1330.3,200.6 L1330.6,199.4 L1330.8,198.2 L1331.1,197.1 L1331.3,195.9 L1331.6,194.7 L1331.9,193.5 L1332.1,192.4 L1332.4,191.2 L1332.6,190.0 L1332.9,188.8 L1333.1,187.7 L1333.4,186.5 L1333.7,185.3 L1333.9,184.1 L1334.2,183.0 L1334.5,181.8 L1334.8,180.6 L1335.0,179.5 L1335.3,178.3 L1335.6,177.1 L1335.9,176.0 L1336.2,174.8 L1336.5,173.7 L1336.8,172.5 L1337.1,171.4 L1337.5,170.3 L1337.8,169.1 L1338.2,168.0 L1338.5,166.9 L1338.9,165.8 L1339.3,164.7 L1339.7,163.6 L1340.1,162.5 L1340.5,161.5 L1340.9,160.4 L1341.3,159.3 L1341.7,158.2 L1342.1,157.1 L1342.5,156.0 L1342.9,154.9 L1343.2,153.7 L1343.6,152.5 L1343.9,151.3 L1344.2,150.0 L1344.4,148.7 L1344.7,147.4 L1345.0,146.1 L1345.4,144.9 L1345.8,143.7 L1346.4,142.6 L1347.1,141.6 L1347.9,140.9 L1348.7,140.4 L1349.7,140.2 L1350.6,140.3 L1351.6,140.8 L1352.5,141.5 L1353.5,142.3 L1354.3,143.2 L1355.1,144.1 L1355.8,145.1 L1356.4,146.1 L1357.1,147.2 L1357.6,148.3 L1358.1,149.4 L1358.6,150.5 L1359.1,151.6 L1359.5,152.8 L1359.9,154.0 L1360.3,155.1 L1360.7,156.3 L1361.1,157.5 L1361.5,158.7 L1361.9,159.8 L1362.2,161.0 L1362.6,162.2 L1362.9,163.4 L1363.3,164.5 L1363.6,165.7 L1364.0,166.9 L1364.3,168.0 L1364.6,169.2 L1364.9,170.4 L1365.3,171.5 L1365.6,172.7 L1365.9,173.9 L1366.2,175.0 L1366.5,176.2 L1366.8,177.4 L1367.0,178.5 L1367.3,179.7 L1367.6,180.8 L1367.9,182.0 L1368.1,183.2 L1368.4,184.3 L1368.7,185.5 L1368.9,186.6 L1369.2,187.8 L1369.4,189.0 L1369.7,190.1 L1369.9,191.3 L1370.2,192.4 L1370.4,193.6 L1370.6,194.8 L1370.9,195.9 L1371.1,197.1 L1371.3,198.2 L1371.5,199.4 L1371.8,200.5 L1372.0,201.7 L1372.2,202.9 L1372.4,204.0 L1372.6,205.2 L1372.8,206.3 L1373.0,207.5 L1373.2,208.7 L1373.4,209.8 L1373.6,211.0 L1373.9,212.2 L1374.1,213.3 L1374.3,214.5 L1374.5,215.7 L1374.7,216.8 L1374.8,218.0 L1375.0,219.2 L1375.2,220.3 L1375.4,221.5 L1375.6,222.7 L1375.8,223.8 L1376.0,225.0 L1376.2,226.2 L1376.4,227.3 L1376.6,228.5 L1376.8,229.7 L1377.0,230.9 L1377.2,232.0 L1377.4,233.2 L1377.6,234.4 L1377.7,235.6 L1377.9,236.8 L1378.1,237.9 L1378.3,239.1 L1378.5,240.3 L1378.7,241.5 L1378.9,242.7 L1379.1,243.8 L1379.3,245.0 L1379.4,246.2 L1379.6,247.4 L1379.8,248.6 L1380.0,249.8 L1380.2,250.9 L1380.4,252.1 L1380.6,253.3 L1380.7,254.5 L1380.9,255.7 L1381.1,256.9 L1381.3,258.1 L1381.5,259.2 L1381.7,260.4 L1381.9,261.6 L1382.0,262.8 L1382.2,264.0 L1382.4,265.2 L1382.6,266.4 L1382.8,267.6 L1383.0,268.8 L1383.1,269.9 L1383.3,271.1 L1383.5,272.3 L1383.7,273.5 L1383.9,274.7 L1384.0,275.9 L1384.2,277.1 L1384.4,278.3 L1384.6,279.5 L1384.8,280.7 L1385.0,281.9 L1385.1,283.1 L1385.3,284.2 L1385.5,285.4 L1385.7,286.6 L1385.9,287.8 L1386.1,289.0 L1386.2,290.2 L1386.4,291.4 L1386.6,292.6 L1386.8,293.8 L1387.0,295.0 L1387.1,296.2 L1387.3,297.4 L1387.5,298.6 L1387.7,299.7 L1387.9,300.9 L1388.1,302.1 L1388.2,303.3 L1388.4,304.5 L1388.6,305.7 L1388.8,306.9 L1389.0,308.1 L1389.2,309.3 L1389.3,310.5 L1389.5,311.7 L1389.7,312.9 L1389.9,314.0 L1390.1,315.2 L1390.3,316.4 L1390.4,317.6 L1390.6,318.8 L1390.8,320.0 L1391.0,321.2 L1391.2,322.4 L1391.4,323.6 L1391.6,324.7 L1391.8,325.9 L1391.9,327.1 L1392.1,328.3 L1392.3,329.5 L1392.5,330.7 L1392.7,331.9 L1392.9,333.1 L1393.1,334.2 L1393.3,335.4 L1393.5,336.6 L1393.7,337.8 L1393.8,339.0 L1394.0,340.2 L1394.2,341.3 L1394.4,342.5 L1394.6,343.7 L1394.8,344.9 L1395.0,346.1 L1395.2,347.3 L1395.4,348.4 L1395.6,349.6 L1395.8,350.8 L1396.0,352.0 L1396.2,353.2 L1396.4,354.3 L1396.6,355.5 L1396.8,356.7 L1397.0,357.9 L1397.3,359.0 L1397.5,360.2 L1397.7,361.4 L1397.9,362.6 L1398.1,363.8 L1398.3,364.9 L1398.5,366.1 L1398.7,367.3 L1399.0,368.5 L1399.2,369.6 L1399.4,370.8 L1399.6,372.0 L1399.8,373.2 L1400.1,374.3 L1400.3,375.5 L1400.5,376.7 L1400.7,377.8 L1401.0,379.0 L1401.2,380.2 L1401.4,381.4 L1401.7,382.5 L1401.9,383.7 L1402.1,384.9 L1402.4,386.0 L1402.6,387.2 L1402.9,388.4 L1403.1,389.5 L1403.3,390.7 L1403.6,391.9 L1403.8,393.0 L1404.1,394.2 L1404.3,395.4 L1404.6,396.5 L1404.8,397.7 L1405.1,398.9 L1405.4,400.0 L1405.6,401.2 L1405.9,402.4 L1406.1,403.5 L1406.4,404.7 L1406.7,405.8 L1407.0,407.0 L1407.2,408.2 L1407.5,409.3 L1407.8,410.5 L1408.1,411.6 L1408.3,412.8 L1408.6,414.0 L1408.9,415.1 L1409.2,416.3 L1409.5,417.4 L1409.8,418.6 L1410.1,419.7 L1410.4,420.9 L1410.7,422.0 L1411.0,423.2 L1411.3,424.4 L1411.6,425.5 L1411.9,426.7 L1412.2,427.8 L1412.6,429.0 L1412.9,430.1 L1413.2,431.3 L1413.6,432.4 L1413.9,433.6 L1414.3,434.7 L1414.6,435.9 L1415.0,437.0 L1415.3,438.2 L1415.7,439.3 L1416.1,440.5 L1416.5,441.6 L1416.8,442.8 L1417.2,443.9 L1417.6,445.1 L1418.0,446.2 L1418.4,447.4 L1418.8,448.5 L1419.3,449.7 L1419.7,450.8 L1420.1,452.0 L1420.6,453.1 L1421.0,454.3 L1421.4,455.4 L1421.9,456.6 L1422.4,457.7 L1422.8,458.9 L1423.3,460.0 L1423.8,461.2 L1424.3,462.3 L1424.8,463.4 L1425.4,464.5 L1425.9,465.7 L1426.4,466.8 L1427.0,467.8 L1427.6,468.9 L1428.2,470.0 L1428.8,471.0 L1429.4,472.0 L1430.0,473.0 L1430.7,474.0 L1431.4,475.0 L1432.0,475.9 L1432.8,476.9 L1433.5,477.8 L1434.2,478.6 L1435.0,479.5 L1435.8,480.3 L1436.6,481.1 L1437.5,481.8 L1438.3,482.5 L1439.2,483.2 L1440.1,483.9 L1441.1,484.5 L1442.0,485.0 L1443.0,485.6 L1444.1,486.1 L1445.1,486.5 L1446.2,487.0 L1447.3,487.4 L1448.4,487.7 L1449.5,488.0 L1450.6,488.3 L1451.8,488.6 L1453.0,488.8 L1454.2,489.1 L1455.4,489.2 L1456.6,489.4 L1457.8,489.5 L1459.1,489.6 L1460.3,489.7 L1461.6,489.8 L1462.8,489.8 L1464.1,489.8 L1465.4,489.8 L1466.6,489.8 L1467.9,489.8 L1469.2,489.7 L1470.5,489.6 L1471.7,489.5 L1473.0,489.4 L1474.3,489.3 L1475.5,489.2 L1476.8,489.1 L1478.0,488.9 L1479.3,488.8 L1480.5,488.6 L1481.7,488.5 L1483.0,488.3 L1484.2,488.2 L1485.4,488.1 L1486.6,487.9 L1487.8,487.8 L1489.0,487.7 L1490.2,487.7 L1491.3,487.6 L1492.5,487.6 L1493.7,487.6 L1494.8,487.7 L1496.0,487.7 L1497.1,487.9 L1498.3,488.0 L1499.4,488.2 L1500.6,488.4 L1501.7,488.6 L1502.8,488.8 L1503.9,489.1 L1505.0,489.4 L1506.1,489.8 L1507.2,490.1 L1508.3,490.5 L1509.4,490.9 L1510.5,491.4 L1511.6,491.8 L1512.7,492.3 L1513.7,492.8 L1514.8,493.3 L1515.8,493.8 L1516.9,494.4 L1517.9,495.0 L1519.0,495.5 L1520.0,496.1 L1521.0,496.8 L1522.1,497.4 L1523.1,498.0 L1524.1,498.7 L1525.1,499.4 L1526.1,500.0 L1527.1,500.7 L1528.1,501.4 L1529.1,502.1 L1530.0,502.9 L1531.0,503.6 L1532.0,504.3 L1532.9,505.1 L1533.9,505.8 L1534.9,506.6 L1535.8,507.3 L1536.7,508.1 L1537.7,508.9 L1538.6,509.6 L1539.6,510.4 L1540.5,511.2 L1541.4,512.0 L1542.3,512.8 L1543.3,513.6 L1544.2,514.4 L1545.1,515.2 L1546.0,516.0 L1546.9,516.9 L1547.8,517.7 L1548.7,518.5 L1549.6,519.3 L1550.5,520.1 L1551.4,521.0 L1552.3,521.8 L1553.2,522.6 L1554.1,523.4 L1555.0,524.2 L1555.9,525.1 L1556.8,525.9 L1557.7,526.7 L1558.6,527.5 L1559.5,528.3 L1560.4,529.2 L1561.3,530.0 L1562.2,530.8 L1563.1,531.6 L1564.0,532.4 L1564.9,533.2 L1565.8,534.0 L1566.7,534.8 L1567.6,535.6 L1568.5,536.3 L1569.5,537.1 L1570.4,537.9 L1571.3,538.6 L1572.2,539.4 L1573.1,540.2 L1574.1,540.9 L1575.0,541.6 L1575.9,542.4 L1576.9,543.1 L1577.8,543.8 L1578.8,544.5 L1579.7,545.2 L1580.7,545.9 L1581.6,546.6 L1582.6,547.2 L1583.6,547.9 L1584.5,548.5 L1585.5,549.2 L1586.5,549.8 L1587.5,550.4 L1588.5,551.0 L1589.5,551.6 L1590.5,552.2 L1591.5,552.7 L1592.6,553.3 L1593.6,553.8 L1594.6,554.3 L1595.7,554.9 L1596.7,555.3 L1597.8,555.8 L1598.9,556.3 L1599.9,556.7 L1601.0,557.2 L1602.1,557.6 L1603.2,558.0 L1604.3,558.4 L1605.5,558.8 L1606.6,559.1 L1607.7,559.5 L1608.9,559.8 L1610.0,560.1 L1611.2,560.4 L1612.3,560.7 L1613.5,560.9 L1614.7,561.2 L1615.9,561.5 L1617.1,561.7 L1618.2,561.9 L1619.4,562.2 L1620.6,562.4 L1621.8,562.6 L1623.1,562.8 L1624.3,563.0 L1625.5,563.2 L1626.7,563.3 L1627.9,563.5 L1629.1,563.7 L1630.4,563.8 L1631.6,564.0 L1632.8,564.2 L1634.0,564.3 L1635.3,564.5 L1636.5,564.6 L1637.7,564.8 L1639.0,565.0 L1640.2,565.1 L1641.4,565.3 L1642.6,565.4 L1643.8,565.6 L1645.1,565.8 L1646.3,565.9 L1647.5,566.1 L1648.7,566.3 L1649.9,566.5 L1651.1,566.7 L1652.3,566.9 L1653.5,567.1 L1654.7,567.3 L1655.8,567.5 L1657.0,567.7 L1658.2,568.0 L1659.4,568.2 L1660.5,568.4 L1661.7,568.7 L1662.9,568.9 L1664.0,569.2 L1665.2,569.4 L1666.3,569.7 L1667.5,569.9 L1668.6,570.2 L1669.8,570.5 L1670.9,570.7 L1672.1,571.0 L1673.2,571.2 L1674.4,571.5 L1675.5,571.7 L1676.7,572.0 L1677.8,572.2 L1679.0,572.5 L1680.1,572.7 L1681.3,572.9 L1682.4,573.2 L1683.6,573.4 L1684.7,573.6 L1685.9,573.8 L1687.1,574.0 L1688.2,574.2 L1689.4,574.4 L1690.6,574.6 L1691.7,574.8 L1692.9,574.9 L1694.1,575.1 L1695.2,575.2 L1696.4,575.4 L1697.6,575.5 L1698.8,575.7 L1700.0,575.8 L1701.2,575.9 L1702.4,576.0 L1703.5,576.2 L1704.7,576.3 L1705.9,576.4 L1707.1,576.5 L1708.3,576.6 L1709.5,576.6 L1710.7,576.7 L1711.9,576.8 L1713.1,576.9 L1714.3,577.0 L1715.5,577.0 L1716.7,577.1 L1717.9,577.1 L1719.2,577.2 L1720.4,577.2 L1721.6,577.3 L1722.8,577.3 L1724.0,577.4 L1725.2,577.4 L1726.4,577.5 L1727.6,577.5 L1728.8,577.5 L1730.1,577.6 L1731.3,577.6 L1732.5,577.6 L1733.7,577.6 L1734.9,577.6 L1736.1,577.7 L1737.3,577.7 L1738.6,577.7 L1739.8,577.7 L1741.0,577.7 L1742.2,577.8 L1743.4,577.8 L1744.6,577.8 L1745.8,577.8 L1747.1,577.8 L1748.3,577.8 L1749.5,577.8 L1750.7,577.8 L1751.9,577.9 L1753.1,577.9 L1754.3,577.9 L1755.5,577.9 L1756.7,577.9 L1757.9,577.9 L1759.1,578.0 L1760.3,578.0 L1761.5,578.0 L1762.7,578.0 L1763.9,578.0 L1765.1,578.1 L1766.3,578.1 L1767.5,578.1 L1768.7,578.2 L1769.9,578.2 L1771.1,578.2 L1772.3,578.3 L1773.5,578.3 L1774.7,578.4 L1775.8,578.4 L1777.0,578.5 L1778.2,578.6 L1779.4,578.6 L1780.5,578.7 L1781.7,578.8 L1782.9,578.8 L1784.1,578.9 L1785.2,579.0"/>
<path class="cv" stroke="#f00" d="M1113.8,573.0 L1114.8,572.9 L1115.8,572.8 L1116.8,572.6 L1117.8,572.5 L1118.9,572.5 L1119.9,572.4 L1121.0,572.3 L1122.0,572.2 L1123.1,572.2 L1124.2,572.1 L1125.3,572.1 L1126.4,572.1 L1127.5,572.0 L1128.6,572.0 L1129.8,572.0 L1130.9,572.0 L1132.1,572.0 L1133.2,572.0 L1134.4,572.0 L1135.6,572.0 L1136.8,572.0 L1138.0,572.0 L1139.2,572.0 L1140.4,572.1 L1141.6,572.1 L1142.8,572.1 L1144.0,572.2 L1145.3,572.2 L1146.5,572.2 L1147.7,572.3 L1149.0,572.3 L1150.2,572.3 L1151.5,572.4 L1152.7,572.4 L1154.0,572.5 L1155.3,572.5 L1156.5,572.5 L1157.8,572.6 L1159.1,572.6 L1160.3,572.7 L1161.6,572.7 L1162.9,572.7 L1164.2,572.7 L1165.5,572.8 L1166.8,572.8 L1168.0,572.8 L1169.3,572.8 L1170.6,572.8 L1171.9,572.8 L1173.2,572.8 L1174.5,572.8 L1175.7,572.8 L1177.0,572.8 L1178.3,572.8 L1179.6,572.8 L1180.9,572.7 L1182.1,572.7 L1183.4,572.6 L1184.7,572.6 L1186.0,572.5 L1187.2,572.4 L1188.5,572.4 L1189.7,572.3 L1191.0,572.2 L1192.2,572.1 L1193.5,571.9 L1194.7,571.8 L1196.0,571.7 L1197.2,571.5 L1198.4,571.3 L1199.6,571.2 L1200.8,571.0 L1202.0,570.8 L1203.2,570.6 L1204.4,570.4 L1205.6,570.1 L1206.8,569.9 L1208.0,569.6 L1209.1,569.3 L1210.3,569.1 L1211.4,568.7 L1212.6,568.4 L1213.7,568.1 L1214.8,567.7 L1215.9,567.4 L1217.0,567.0 L1218.1,566.6 L1219.2,566.2 L1220.3,565.8 L1221.3,565.3 L1222.4,564.8 L1223.4,564.4 L1224.4,563.9 L1225.4,563.3 L1226.4,562.8 L1227.4,562.2 L1228.4,561.7 L1229.4,561.1 L1230.3,560.4 L1231.2,559.8 L1232.2,559.1 L1233.1,558.5 L1234.0,557.8 L1234.9,557.1 L1235.7,556.3 L1236.6,555.6 L1237.4,554.8 L1238.3,554.1 L1239.1,553.3 L1239.9,552.5 L1240.7,551.7 L1241.5,550.8 L1242.3,550.0 L1243.1,549.1 L1243.9,548.2 L1244.6,547.3 L1245.3,546.4 L1246.1,545.5 L1246.8,544.6 L1247.5,543.6 L1248.2,542.7 L1248.9,541.7 L1249.6,540.7 L1250.3,539.8 L1250.9,538.8 L1251.6,537.8 L1252.2,536.7 L1252.8,535.7 L1253.5,534.7 L1254.1,533.7 L1254.7,532.6 L1255.3,531.5 L1255.9,530.5 L1256.5,529.4 L1257.1,528.3 L1257.6,527.3 L1258.2,526.2 L1258.7,525.1 L1259.3,524.0 L1259.8,522.9 L1260.3,521.8 L1260.9,520.6 L1261.4,519.5 L1261.9,518.4 L1262.4,517.3 L1262.9,516.1 L1263.4,515.0 L1263.8,513.9 L1264.3,512.8 L1264.8,511.6 L1265.3,510.5 L1265.7,509.3 L1266.2,508.2 L1266.6,507.1 L1267.0,505.9 L1267.5,504.8 L1267.9,503.6 L1268.3,502.5 L1268.7,501.4 L1269.2,500.2 L1269.6,499.1 L1270.0,497.9 L1270.4,496.8 L1270.7,495.6 L1271.1,494.5 L1271.5,493.3 L1271.9,492.2 L1272.3,491.0 L1272.6,489.9 L1273.0,488.7 L1273.3,487.6 L1273.7,486.4 L1274.0,485.3 L1274.4,484.1 L1274.7,483.0 L1275.0,481.8 L1275.4,480.6 L1275.7,479.5 L1276.0,478.3 L1276.3,477.2 L1276.6,476.0 L1276.9,474.8 L1277.2,473.7 L1277.5,472.5 L1277.8,471.4 L1278.1,470.2 L1278.4,469.0 L1278.6,467.9 L1278.9,466.7 L1279.2,465.5 L1279.5,464.4 L1279.7,463.2 L1280.0,462.0 L1280.2,460.9 L1280.5,459.7 L1280.7,458.5 L1281.0,457.4 L1281.2,456.2 L1281.5,455.0 L1281.7,453.9 L1281.9,452.7 L1282.2,451.5 L1282.4,450.3 L1282.6,449.2 L1282.9,448.0 L1283.1,446.8 L1283.3,445.6 L1283.5,444.5 L1283.7,443.3 L1283.9,442.1 L1284.1,440.9 L1284.3,439.8 L1284.5,438.6 L1284.7,437.4 L1284.9,436.2 L1285.1,435.1 L1285.3,433.9 L1285.5,432.7 L1285.7,431.5 L1285.9,430.3 L1286.0,429.2 L1286.2,428.0 L1286.4,426.8 L1286.6,425.6 L1286.8,424.4 L1286.9,423.3 L1287.1,422.1 L1287.3,420.9 L1287.4,419.7 L1287.6,418.5 L1287.8,417.3 L1287.9,416.2 L1288.1,415.0 L1288.3,413.8 L1288.4,412.6 L1288.6,411.4 L1288.7,410.2 L1288.9,409.1 L1289.1,407.9 L1289.2,406.7 L1289.4,405.5 L1289.5,404.3 L1289.7,403.1 L1289.8,401.9 L1290.0,400.8 L1290.1,399.6 L1290.3,398.4 L1290.4,397.2 L1290.6,396.0 L1290.7,394.8 L1290.9,393.6 L1291.0,392.5 L1291.2,391.3 L1291.3,390.1 L1291.5,388.9 L1291.6,387.7 L1291.8,386.5 L1291.9,385.3 L1292.1,384.1 L1292.2,383.0 L1292.4,381.8 L1292.5,380.6 L1292.7,379.4 L1292.8,378.2 L1293.0,377.0 L1293.1,375.8 L1293.3,374.6 L1293.5,373.5 L1293.6,372.3 L1293.8,371.1 L1293.9,369.9 L1294.1,368.7 L1294.2,367.5 L1294.4,366.3 L1294.6,365.2 L1294.7,364.0 L1294.9,362.8 L1295.0,361.6 L1295.2,360.4 L1295.4,359.2 L1295.6,358.0 L1295.7,356.9 L1295.9,355.7 L1296.1,354.5 L1296.2,353.3 L1296.4,352.1 L1296.6,350.9 L1296.8,349.7 L1297.0,348.6 L1297.1,347.4 L1297.3,346.2 L1297.5,345.0 L1297.7,343.8 L1297.9,342.6 L1298.1,341.5 L1298.2,340.3 L1298.4,339.1 L1298.6,337.9 L1298.8,336.7 L1299.0,335.5 L1299.2,334.4 L1299.4,333.2 L1299.6,332.0 L1299.8,330.8 L1300.0,329.6 L1300.2,328.4 L1300.4,327.3 L1300.6,326.1 L1300.8,324.9 L1301.0,323.7 L1301.2,322.5 L1301.4,321.3 L1301.6,320.2 L1301.8,319.0 L1302.0,317.8 L1302.2,316.6 L1302.4,315.4 L1302.6,314.3 L1302.8,313.1 L1303.0,311.9 L1303.2,310.7 L1303.4,309.5 L1303.6,308.3 L1303.9,307.2 L1304.1,306.0 L1304.3,304.8 L1304.5,303.6 L1304.7,302.4 L1304.9,301.2 L1305.1,300.1 L1305.3,298.9 L1305.5,297.7 L1305.8,296.5 L1306.0,295.3 L1306.2,294.2 L1306.4,293.0 L1306.6,291.8 L1306.8,290.6 L1307.0,289.4 L1307.2,288.2 L1307.5,287.1 L1307.7,285.9 L1307.9,284.7 L1308.1,283.5 L1308.3,282.3 L1308.5,281.1 L1308.7,280.0 L1309.0,278.8 L1309.2,277.6 L1309.4,276.4 L1309.6,275.2 L1309.8,274.0 L1310.0,272.9 L1310.2,271.7 L1310.4,270.5 L1310.7,269.3 L1310.9,268.1 L1311.1,266.9 L1311.3,265.8 L1311.5,264.6 L1311.7,263.4 L1311.9,262.2 L1312.1,261.0 L1312.3,259.8 L1312.5,258.7 L1312.8,257.5 L1313.0,256.3 L1313.2,255.1 L1313.4,253.9 L1313.6,252.7 L1313.8,251.5 L1314.0,250.4 L1314.2,249.2 L1314.4,248.0 L1314.6,246.8 L1314.8,245.6 L1315.0,244.4 L1315.2,243.2 L1315.4,242.1 L1315.7,240.9 L1315.9,239.7 L1316.1,238.5 L1316.3,237.3 L1316.5,236.1 L1316.7,235.0 L1316.9,233.8 L1317.1,232.6 L1317.4,231.4 L1317.6,230.2 L1317.8,229.1 L1318.0,227.9 L1318.2,226.7 L1318.5,225.5 L1318.7,224.4 L1318.9,223.2 L1319.2,222.0 L1319.4,220.8 L1319.6,219.7 L1319.9,218.5 L1320.1,217.3 L1320.4,216.1 L1320.6,215.0 L1320.8,213.8 L1321.1,212.6 L1321.3,211.5 L1321.6,210.3 L1321.9,209.1 L1322.1,208.0 L1322.4,206.8 L1322.7,205.7 L1322.9,204.5 L1323.2,203.3 L1323.5,202.2 L1323.8,201.0 L1324.1,199.9 L1324.4,198.7 L1324.6,197.6 L1324.9,196.4 L1325.3,195.3 L1325.6,194.1 L1325.9,193.0 L1326.2,191.8 L1326.5,190.7 L1326.8,189.6 L1327.2,188.4 L1327.5,187.3 L1327.8,186.2 L1328.2,185.0 L1328.5,183.9 L1328.9,182.8 L1329.2,181.6 L1329.6,180.5 L1330.0,179.4 L1330.3,178.3 L1330.7,177.2 L1331.1,176.0 L1331.5,174.9 L1331.9,173.8 L1332.3,172.7 L1332.7,171.6 L1333.1,170.5 L1333.5,169.4 L1334.0,168.3 L1334.4,167.2 L1334.8,166.1 L1335.3,165.0 L1335.8,163.9 L1336.3,162.8 L1336.7,161.7 L1337.2,160.6 L1337.8,159.6 L1338.3,158.5 L1338.8,157.4 L1339.4,156.3 L1340.0,155.2 L1340.6,154.2 L1341.2,153.1 L1341.8,152.0 L1342.5,150.9 L1343.2,149.9 L1343.9,148.8 L1344.6,147.7 L1345.3,146.7 L1346.1,145.6 L1346.9,144.6 L1347.7,143.7 L1348.6,142.8 L1349.5,142.0 L1350.5,141.3 L1351.5,140.8 L1352.6,140.3 L1353.6,140.0 L1354.7,139.9 L1355.8,139.9 L1356.9,140.1 L1357.9,140.4 L1358.9,140.9 L1359.9,141.5 L1360.9,142.1 L1361.9,142.9 L1362.8,143.8 L1363.7,144.7 L1364.5,145.7 L1365.3,146.7 L1366.0,147.7 L1366.8,148.8 L1367.4,149.9 L1368.0,150.9 L1368.6,152.0 L1369.1,153.1 L1369.6,154.2 L1370.1,155.3 L1370.5,156.5 L1371.0,157.6 L1371.3,158.7 L1371.7,159.9 L1372.1,161.0 L1372.4,162.1 L1372.8,163.3 L1373.1,164.4 L1373.4,165.6 L1373.7,166.7 L1374.0,167.9 L1374.4,169.0 L1374.7,170.2 L1375.0,171.3 L1375.3,172.5 L1375.6,173.7 L1375.9,174.8 L1376.2,176.0 L1376.6,177.1 L1376.9,178.3 L1377.2,179.4 L1377.5,180.6 L1377.8,181.7 L1378.1,182.9 L1378.4,184.0 L1378.7,185.2 L1379.0,186.4 L1379.3,187.5 L1379.6,188.7 L1379.9,189.8 L1380.2,191.0 L1380.6,192.1 L1380.9,193.3 L1381.2,194.5 L1381.5,195.6 L1381.8,196.8 L1382.1,197.9 L1382.4,199.1 L1382.7,200.2 L1382.9,201.4 L1383.2,202.6 L1383.5,203.7 L1383.8,204.9 L1384.1,206.0 L1384.4,207.2 L1384.7,208.4 L1385.0,209.5 L1385.3,210.7 L1385.6,211.9 L1385.9,213.0 L1386.2,214.2 L1386.4,215.3 L1386.7,216.5 L1387.0,217.7 L1387.3,218.8 L1387.6,220.0 L1387.9,221.2 L1388.2,222.3 L1388.4,223.5 L1388.7,224.7 L1389.0,225.8 L1389.3,227.0 L1389.5,228.1 L1389.8,229.3 L1390.1,230.5 L1390.4,231.6 L1390.6,232.8 L1390.9,234.0 L1391.2,235.1 L1391.5,236.3 L1391.7,237.5 L1392.0,238.6 L1392.3,239.8 L1392.5,241.0 L1392.8,242.2 L1393.1,243.3 L1393.3,244.5 L1393.6,245.7 L1393.9,246.8 L1394.1,248.0 L1394.4,249.2 L1394.6,250.3 L1394.9,251.5 L1395.1,252.7 L1395.4,253.8 L1395.7,255.0 L1395.9,256.2 L1396.2,257.4 L1396.4,258.5 L1396.7,259.7 L1396.9,260.9 L1397.2,262.0 L1397.4,263.2 L1397.7,264.4 L1397.9,265.6 L1398.2,266.7 L1398.4,267.9 L1398.6,269.1 L1398.9,270.3 L1399.1,271.4 L1399.4,272.6 L1399.6,273.8 L1399.9,274.9 L1400.1,276.1 L1400.3,277.3 L1400.6,278.5 L1400.8,279.6 L1401.0,280.8 L1401.3,282.0 L1401.5,283.2 L1401.8,284.3 L1402.0,285.5 L1402.2,286.7 L1402.5,287.9 L1402.7,289.0 L1402.9,290.2 L1403.2,291.4 L1403.4,292.6 L1403.6,293.7 L1403.9,294.9 L1404.1,296.1 L1404.4,297.3 L1404.6,298.4 L1404.8,299.6 L1405.1,300.8 L1405.3,302.0 L1405.5,303.1 L1405.8,304.3 L1406.0,305.5 L1406.2,306.7 L1406.5,307.8 L1406.7,309.0 L1406.9,310.2 L1407.2,311.4 L1407.4,312.5 L1407.7,313.7 L1407.9,314.9 L1408.1,316.0 L1408.4,317.2 L1408.6,318.4 L1408.9,319.6 L1409.1,320.7 L1409.4,321.9 L1409.6,323.1 L1409.8,324.3 L1410.1,325.4 L1410.3,326.6 L1410.6,327.8 L1410.8,329.0 L1411.1,330.1 L1411.3,331.3 L1411.6,332.5 L1411.8,333.6 L1412.1,334.8 L1412.3,336.0 L1412.6,337.2 L1412.9,338.3 L1413.1,339.5 L1413.4,340.7 L1413.6,341.8 L1413.9,343.0 L1414.2,344.2 L1414.4,345.4 L1414.7,346.5 L1414.9,347.7 L1415.2,348.9 L1415.5,350.0 L1415.8,351.2 L1416.0,352.4 L1416.3,353.5 L1416.6,354.7 L1416.9,355.9 L1417.1,357.0 L1417.4,358.2 L1417.7,359.4 L1418.0,360.5 L1418.3,361.7 L1418.6,362.9 L1418.8,364.0 L1419.1,365.2 L1419.4,366.4 L1419.7,367.5 L1420.0,368.7 L1420.3,369.9 L1420.6,371.0 L1421.0,372.2 L1421.3,373.3 L1421.6,374.5 L1421.9,375.7 L1422.2,376.8 L1422.6,378.0 L1422.9,379.1 L1423.2,380.3 L1423.6,381.4 L1423.9,382.6 L1424.3,383.7 L1424.6,384.9 L1425.0,386.0 L1425.4,387.1 L1425.7,388.3 L1426.1,389.4 L1426.5,390.5 L1426.9,391.7 L1427.3,392.8 L1427.7,393.9 L1428.1,395.0 L1428.5,396.2 L1428.9,397.3 L1429.4,398.4 L1429.8,399.5 L1430.2,400.6 L1430.7,401.7 L1431.2,402.8 L1431.6,403.9 L1432.1,405.0 L1432.6,406.1 L1433.1,407.2 L1433.6,408.3 L1434.1,409.4 L1434.6,410.5 L1435.1,411.5 L1435.7,412.6 L1436.2,413.7 L1436.7,414.7 L1437.3,415.8 L1437.9,416.8 L1438.5,417.9 L1439.1,418.9 L1439.7,420.0 L1440.3,421.0 L1440.9,422.1 L1441.5,423.1 L1442.2,424.1 L1442.8,425.1 L1443.5,426.1 L1444.2,427.1 L1444.9,428.2 L1445.6,429.2 L1446.3,430.1 L1447.0,431.1 L1447.7,432.1 L1448.5,433.1 L1449.2,434.0 L1450.0,435.0 L1450.8,435.9 L1451.6,436.9 L1452.4,437.8 L1453.2,438.7 L1454.1,439.5 L1454.9,440.4 L1455.8,441.2 L1456.6,442.0 L1457.5,442.8 L1458.4,443.6 L1459.4,444.4 L1460.3,445.1 L1461.2,445.8 L1462.2,446.4 L1463.2,447.1 L1464.2,447.6 L1465.2,448.2 L1466.2,448.7 L1467.2,449.2 L1468.3,449.7 L1469.3,450.2 L1470.4,450.6 L1471.5,450.9 L1472.6,451.3 L1473.7,451.6 L1474.8,452.0 L1476.0,452.2 L1477.1,452.5 L1478.2,452.8 L1479.4,453.0 L1480.6,453.2 L1481.7,453.4 L1482.9,453.6 L1484.1,453.8 L1485.3,454.0 L1486.5,454.1 L1487.7,454.3 L1488.9,454.4 L1490.1,454.6 L1491.3,454.7 L1492.6,454.9 L1493.8,455.0 L1495.0,455.1 L1496.2,455.3 L1497.4,455.4 L1498.7,455.5 L1499.9,455.7 L1501.1,455.8 L1502.3,455.9 L1503.6,456.1 L1504.8,456.2 L1506.0,456.4 L1507.2,456.5 L1508.4,456.7 L1509.7,456.9 L1510.9,457.1 L1512.1,457.2 L1513.3,457.4 L1514.5,457.6 L1515.7,457.9 L1516.9,458.1 L1518.0,458.3 L1519.2,458.6 L1520.4,458.8 L1521.5,459.1 L1522.7,459.4 L1523.8,459.7 L1525.0,460.0 L1526.1,460.3 L1527.2,460.7 L1528.3,461.0 L1529.4,461.4 L1530.5,461.8 L1531.6,462.2 L1532.7,462.7 L1533.7,463.1 L1534.8,463.6 L1535.8,464.1 L1536.8,464.6 L1537.8,465.2 L1538.8,465.8 L1539.8,466.3 L1540.8,467.0 L1541.7,467.6 L1542.6,468.3 L1543.6,469.0 L1544.5,469.7 L1545.3,470.5 L1546.2,471.2 L1547.1,472.0 L1547.9,472.9 L1548.7,473.7 L1549.6,474.6 L1550.4,475.5 L1551.2,476.4 L1551.9,477.3 L1552.7,478.2 L1553.5,479.2 L1554.3,480.2 L1555.0,481.1 L1555.7,482.1 L1556.5,483.1 L1557.2,484.1 L1558.0,485.2 L1558.7,486.2 L1559.4,487.2 L1560.1,488.3 L1560.8,489.3 L1561.6,490.3 L1562.3,491.4 L1563.0,492.4 L1563.7,493.5 L1564.4,494.5 L1565.2,495.5 L1565.9,496.6 L1566.6,497.6 L1567.4,498.6 L1568.1,499.6 L1568.8,500.6 L1569.6,501.6 L1570.4,502.6 L1571.1,503.5 L1571.9,504.5 L1572.7,505.4 L1573.5,506.3 L1574.3,507.2 L1575.1,508.1 L1575.9,509.0 L1576.7,509.9 L1577.5,510.8 L1578.4,511.6 L1579.2,512.5 L1580.1,513.3 L1580.9,514.1 L1581.8,515.0 L1582.6,515.8 L1583.5,516.6 L1584.4,517.3 L1585.3,518.1 L1586.2,518.9 L1587.1,519.6 L1588.0,520.4 L1588.9,521.1 L1589.8,521.9 L1590.7,522.6 L1591.6,523.3 L1592.6,524.0 L1593.5,524.7 L1594.4,525.4 L1595.4,526.1 L1596.3,526.8 L1597.3,527.5 L1598.3,528.2 L1599.2,528.8 L1600.2,529.5 L1601.1,530.2 L1602.1,530.8 L1603.1,531.5 L1604.1,532.1 L1605.1,532.8 L1606.1,533.4 L1607.0,534.0 L1608.0,534.7 L1609.0,535.3 L1610.0,535.9 L1611.0,536.6 L1612.0,537.2 L1613.1,537.8 L1614.1,538.4 L1615.1,539.0 L1616.1,539.7 L1617.1,540.3 L1618.1,540.9 L1619.1,541.5 L1620.2,542.1 L1621.2,542.7 L1622.2,543.3 L1623.2,544.0 L1624.3,544.6 L1625.3,545.2 L1626.3,545.8 L1627.4,546.4 L1628.4,547.1 L1629.4,547.7 L1630.5,548.3 L1631.5,548.9 L1632.5,549.6 L1633.6,550.2 L1634.6,550.8 L1635.6,551.4 L1636.7,552.1 L1637.7,552.7 L1638.8,553.3 L1639.8,554.0 L1640.8,554.6 L1641.9,555.2 L1642.9,555.8 L1644.0,556.4 L1645.0,557.1 L1646.1,557.7 L1647.1,558.3 L1648.2,558.9 L1649.2,559.5 L1650.3,560.1 L1651.4,560.7 L1652.4,561.3 L1653.5,561.9 L1654.5,562.4 L1655.6,563.0 L1656.7,563.6 L1657.8,564.2 L1658.8,564.7 L1659.9,565.3 L1661.0,565.8 L1662.0,566.4 L1663.1,566.9 L1664.2,567.4 L1665.3,567.9 L1666.4,568.4 L1667.5,568.9 L1668.6,569.4 L1669.6,569.9 L1670.7,570.4 L1671.8,570.9 L1672.9,571.3 L1674.0,571.8 L1675.1,572.2 L1676.3,572.6 L1677.4,573.1 L1678.5,573.5 L1679.6,573.9 L1680.7,574.2 L1681.8,574.6 L1683.0,575.0 L1684.1,575.3 L1685.2,575.6 L1686.3,576.0 L1687.5,576.3 L1688.6,576.6 L1689.8,576.9 L1690.9,577.1 L1692.1,577.4 L1693.2,577.6 L1694.4,577.9 L1695.5,578.1 L1696.7,578.3 L1697.8,578.5 L1699.0,578.7 L1700.2,578.9 L1701.3,579.0 L1702.5,579.2 L1703.7,579.3 L1704.9,579.5 L1706.0,579.6 L1707.2,579.7 L1708.4,579.8 L1709.6,579.9 L1710.8,580.0 L1712.0,580.1 L1713.1,580.2 L1714.3,580.2 L1715.5,580.3 L1716.7,580.3 L1717.9,580.4 L1719.1,580.4 L1720.3,580.5 L1721.5,580.5 L1722.7,580.5 L1723.9,580.5 L1725.1,580.5 L1726.3,580.5 L1727.5,580.5 L1728.7,580.5 L1729.9,580.5 L1731.2,580.5 L1732.4,580.5 L1733.6,580.4 L1734.8,580.4 L1736.0,580.4 L1737.2,580.4 L1738.4,580.3 L1739.6,580.3 L1740.8,580.2 L1742.0,580.2 L1743.3,580.1 L1744.5,580.1 L1745.7,580.1 L1746.9,580.0 L1748.1,580.0 L1749.3,579.9 L1750.5,579.9 L1751.7,579.8 L1753.0,579.8 L1754.2,579.7 L1755.4,579.7 L1756.6,579.6 L1757.8,579.6 L1759.0,579.5 L1760.2,579.5 L1761.4,579.4 L1762.6,579.4 L1763.8,579.4 L1765.0,579.3 L1766.2,579.3 L1767.4,579.3 L1768.6,579.2 L1769.8,579.2 L1771.0,579.2 L1772.2,579.2 L1773.4,579.2 L1774.6,579.2 L1775.8,579.2 L1777.0,579.2 L1778.2,579.2 L1779.4,579.2 L1780.6,579.3 L1781.7,579.3 L1782.9,579.3 L1784.1,579.4 L1785.3,579.4"/>
<text class="pl" x="18.8" y="59.9">(a)</text>
<text class="pl" x="908.7" y="60">(b)</text>
<text class="tt" transform="translate(81.0,541.2) rotate(-90)">Normalized Intens.</text>
<text class="lam" x="473.5" y="725.8">λ</text>
<text class="xt" x="516.6" y="725.5">(nm)</text>
<text class="tt" transform="translate(976.0,541.2) rotate(-90)">Normalized Intens.</text>
<text class="lam" x="1401.1" y="725.8">λ</text>
<text class="xt" x="1444.2" y="725.5">(nm)</text>
<path d="M686.2,240.6 H744.4" stroke="#000" stroke-width="6" stroke-linecap="round"/>
<text class="lg" x="758.0" y="247.8"><tspan class="b">1</tspan>-Chl</text>
<path d="M686.2,275.5 H744.4" stroke="#00f" stroke-width="6" stroke-linecap="round"/>
<text class="lg" x="758.0" y="286.6"><tspan class="b">2</tspan>-Chl</text>
<path d="M686.2,310.9 H744.4" stroke="#f00" stroke-width="6" stroke-linecap="round"/>
<text class="lg" x="758.0" y="325.0"><tspan class="b">3</tspan>-Chl</text>
<path d="M1598.8,265.5 H1656.0" stroke="#000" stroke-width="6" stroke-linecap="round"/>
<text class="lg" x="1671.0" y="273.7"><tspan class="b">1</tspan>-SnChl</text>
<path d="M1598.8,301.3 H1656.0" stroke="#00f" stroke-width="6" stroke-linecap="round"/>
<text class="lg" x="1672.8" y="310.8"><tspan class="b">2</tspan>-SnChl</text>
<path d="M1598.8,336.3 H1656.0" stroke="#f00" stroke-width="6" stroke-linecap="round"/>
<text class="lg" x="1671.0" y="349.4"><tspan class="b">3</tspan>-SnChl</text>
</g>
</svg>
</body></html>
